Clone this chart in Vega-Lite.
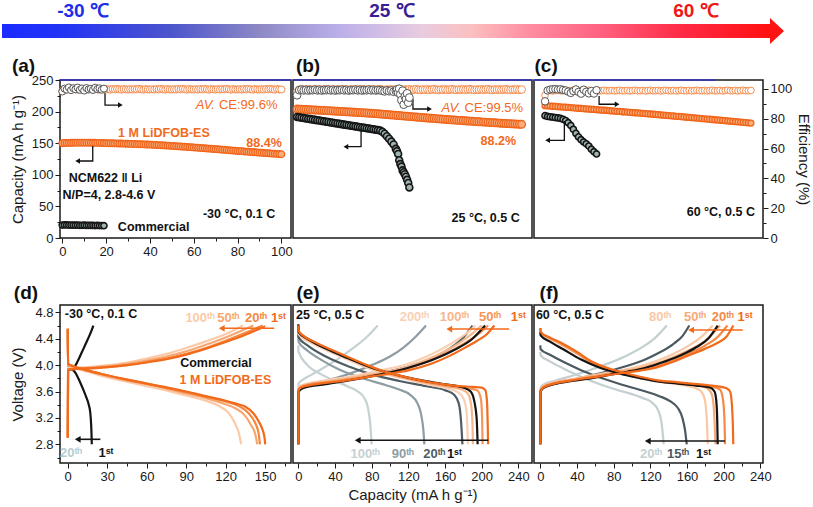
{
"$schema":"https://vega.github.io/schema/vega-lite/v6.json",
"background":"white",
"padding":{"left":0,"top":0,"right":0,"bottom":0},
"autosize":{"type":"pad"},
"config":{
 "font":"Liberation Sans",
 "view":{"stroke":"#1a1a1a","strokeWidth":1.5},
 "axis":{"domain":false,"grid":false,"tickColor":"#1a1a1a","tickWidth":1,"labelColor":"#1a1a1a","titleColor":"#1a1a1a","labelFontSize":13,"titleFontSize":15,"titleFontWeight":"normal","labelPadding":2,"labelFlush":false,"labelOverlap":false,"labelFont":"Liberation Sans","titleFont":"Liberation Sans"},
 "text":{"font":"Liberation Sans"}
},
"datasets":{
"cyc":[
{"p":"a","s":"L","x":0,"cap":150.0,"eff":98.6},{"p":"a","s":"L","x":1,"cap":150.3,"eff":99.8},{"p":"a","s":"L","x":2,"cap":150.4,"eff":99.6},{"p":"a","s":"L","x":3,"cap":150.5,"eff":99.9},{"p":"a","s":"L","x":4,"cap":150.6,"eff":99.7},{"p":"a","s":"L","x":5,"cap":150.6,"eff":100.0},{"p":"a","s":"L","x":6,"cap":150.7,"eff":99.8},{"p":"a","s":"L","x":7,"cap":150.7,"eff":99.5},{"p":"a","s":"L","x":8,"cap":150.7,"eff":99.9},{"p":"a","s":"L","x":9,"cap":150.8,"eff":99.7},
{"p":"a","s":"L","x":10,"cap":150.8,"eff":99.6},{"p":"a","s":"L","x":11,"cap":150.8,"eff":99.8},{"p":"a","s":"L","x":12,"cap":150.7,"eff":99.6},{"p":"a","s":"L","x":13,"cap":150.7,"eff":99.9},{"p":"a","s":"L","x":14,"cap":150.6,"eff":99.7},{"p":"a","s":"L","x":15,"cap":150.6,"eff":100.0},{"p":"a","s":"L","x":16,"cap":150.5,"eff":99.8},{"p":"a","s":"L","x":17,"cap":150.4,"eff":99.5},{"p":"a","s":"L","x":18,"cap":150.3,"eff":99.9},{"p":"a","s":"L","x":19,"cap":150.2,"eff":99.7},
{"p":"a","s":"L","x":20,"cap":150.1,"eff":99.6},{"p":"a","s":"L","x":21,"cap":150.0,"eff":99.8},{"p":"a","s":"L","x":22,"cap":149.9,"eff":99.6},{"p":"a","s":"L","x":23,"cap":149.8,"eff":99.9},{"p":"a","s":"L","x":24,"cap":149.7,"eff":99.7},{"p":"a","s":"L","x":25,"cap":149.6,"eff":100.0},{"p":"a","s":"L","x":26,"cap":149.5,"eff":99.8},{"p":"a","s":"L","x":27,"cap":149.4,"eff":99.5},{"p":"a","s":"L","x":28,"cap":149.3,"eff":99.9},{"p":"a","s":"L","x":29,"cap":149.2,"eff":99.7},
{"p":"a","s":"L","x":30,"cap":149.0,"eff":99.6},{"p":"a","s":"L","x":31,"cap":148.9,"eff":99.8},{"p":"a","s":"L","x":32,"cap":148.8,"eff":99.6},{"p":"a","s":"L","x":33,"cap":148.7,"eff":99.9},{"p":"a","s":"L","x":34,"cap":148.5,"eff":99.7},{"p":"a","s":"L","x":35,"cap":148.4,"eff":100.0},{"p":"a","s":"L","x":36,"cap":148.3,"eff":99.8},{"p":"a","s":"L","x":37,"cap":148.1,"eff":99.5},{"p":"a","s":"L","x":38,"cap":148.0,"eff":99.9},{"p":"a","s":"L","x":39,"cap":147.8,"eff":99.7},
{"p":"a","s":"L","x":40,"cap":147.7,"eff":99.6},{"p":"a","s":"L","x":41,"cap":147.5,"eff":99.8},{"p":"a","s":"L","x":42,"cap":147.4,"eff":99.6},{"p":"a","s":"L","x":43,"cap":147.2,"eff":99.9},{"p":"a","s":"L","x":44,"cap":147.0,"eff":99.7},{"p":"a","s":"L","x":45,"cap":146.8,"eff":100.0},{"p":"a","s":"L","x":46,"cap":146.6,"eff":99.8},{"p":"a","s":"L","x":47,"cap":146.4,"eff":99.5},{"p":"a","s":"L","x":48,"cap":146.2,"eff":99.9},{"p":"a","s":"L","x":49,"cap":146.0,"eff":99.7},
{"p":"a","s":"L","x":50,"cap":145.8,"eff":99.6},{"p":"a","s":"L","x":51,"cap":145.5,"eff":99.8},{"p":"a","s":"L","x":52,"cap":145.3,"eff":99.6},{"p":"a","s":"L","x":53,"cap":145.0,"eff":99.9},{"p":"a","s":"L","x":54,"cap":144.8,"eff":99.7},{"p":"a","s":"L","x":55,"cap":144.5,"eff":100.0},{"p":"a","s":"L","x":56,"cap":144.3,"eff":99.8},{"p":"a","s":"L","x":57,"cap":144.0,"eff":99.5},{"p":"a","s":"L","x":58,"cap":143.8,"eff":99.9},{"p":"a","s":"L","x":59,"cap":143.5,"eff":99.7},
{"p":"a","s":"L","x":60,"cap":143.3,"eff":99.6},{"p":"a","s":"L","x":61,"cap":143.0,"eff":99.8},{"p":"a","s":"L","x":62,"cap":142.7,"eff":99.6},{"p":"a","s":"L","x":63,"cap":142.5,"eff":99.9},{"p":"a","s":"L","x":64,"cap":142.2,"eff":99.7},{"p":"a","s":"L","x":65,"cap":141.9,"eff":100.0},{"p":"a","s":"L","x":66,"cap":141.7,"eff":99.8},{"p":"a","s":"L","x":67,"cap":141.4,"eff":99.5},{"p":"a","s":"L","x":68,"cap":141.1,"eff":99.9},{"p":"a","s":"L","x":69,"cap":140.8,"eff":99.7},
{"p":"a","s":"L","x":70,"cap":140.6,"eff":99.6},{"p":"a","s":"L","x":71,"cap":140.3,"eff":99.8},{"p":"a","s":"L","x":72,"cap":140.0,"eff":99.6},{"p":"a","s":"L","x":73,"cap":139.7,"eff":99.9},{"p":"a","s":"L","x":74,"cap":139.5,"eff":99.7},{"p":"a","s":"L","x":75,"cap":139.2,"eff":100.0},{"p":"a","s":"L","x":76,"cap":138.9,"eff":99.8},{"p":"a","s":"L","x":77,"cap":138.6,"eff":99.5},{"p":"a","s":"L","x":78,"cap":138.3,"eff":99.9},{"p":"a","s":"L","x":79,"cap":138.1,"eff":99.7},
{"p":"a","s":"L","x":80,"cap":137.8,"eff":99.6},{"p":"a","s":"L","x":81,"cap":137.5,"eff":99.8},{"p":"a","s":"L","x":82,"cap":137.2,"eff":99.6},{"p":"a","s":"L","x":83,"cap":136.9,"eff":99.9},{"p":"a","s":"L","x":84,"cap":136.7,"eff":99.7},{"p":"a","s":"L","x":85,"cap":136.4,"eff":100.0},{"p":"a","s":"L","x":86,"cap":136.1,"eff":99.8},{"p":"a","s":"L","x":87,"cap":135.8,"eff":99.5},{"p":"a","s":"L","x":88,"cap":135.6,"eff":99.9},{"p":"a","s":"L","x":89,"cap":135.3,"eff":99.7},
{"p":"a","s":"L","x":90,"cap":135.0,"eff":99.6},{"p":"a","s":"L","x":91,"cap":134.8,"eff":99.8},{"p":"a","s":"L","x":92,"cap":134.5,"eff":99.6},{"p":"a","s":"L","x":93,"cap":134.3,"eff":99.9},{"p":"a","s":"L","x":94,"cap":134.0,"eff":99.7},{"p":"a","s":"L","x":95,"cap":133.8,"eff":100.0},{"p":"a","s":"L","x":96,"cap":133.5,"eff":99.8},{"p":"a","s":"L","x":97,"cap":133.3,"eff":99.5},{"p":"a","s":"L","x":98,"cap":133.1,"eff":99.9},{"p":"a","s":"L","x":99,"cap":132.8,"eff":99.7},{"p":"a","s":"L","x":100,"cap":132.6,"eff":99.6},
{"p":"a","s":"C","x":0,"cap":20.5,"eff":98.3},{"p":"a","s":"C","x":1,"cap":20.8,"eff":100.2},{"p":"a","s":"C","x":2,"cap":20.6,"eff":99.6},{"p":"a","s":"C","x":3,"cap":20.4,"eff":101.0},{"p":"a","s":"C","x":4,"cap":20.5,"eff":99.2},{"p":"a","s":"C","x":5,"cap":20.3,"eff":100.5},{"p":"a","s":"C","x":6,"cap":20.2,"eff":99.8},{"p":"a","s":"C","x":7,"cap":20.4,"eff":100.9},{"p":"a","s":"C","x":8,"cap":20.1,"eff":99.4},{"p":"a","s":"C","x":9,"cap":20.0,"eff":100.3},
{"p":"a","s":"C","x":10,"cap":20.2,"eff":98.9},{"p":"a","s":"C","x":11,"cap":19.9,"eff":100.6},{"p":"a","s":"C","x":12,"cap":20.0,"eff":99.7},{"p":"a","s":"C","x":13,"cap":19.8,"eff":100.1},{"p":"a","s":"C","x":14,"cap":19.9,"eff":99.3},{"p":"a","s":"C","x":15,"cap":19.7,"eff":100.8},{"p":"a","s":"C","x":16,"cap":19.8,"eff":99.9},{"p":"a","s":"C","x":17,"cap":19.6,"eff":100.4},{"p":"a","s":"C","x":18,"cap":19.7,"eff":99.5},{"p":"a","s":"C","x":19,"cap":19.5,"eff":100.2},
{"p":"b","s":"L","x":0,"cap":204.0,"eff":97.8},{"p":"b","s":"L","x":2,"cap":203.9,"eff":99.5},{"p":"b","s":"L","x":4,"cap":203.7,"eff":99.7},{"p":"b","s":"L","x":6,"cap":203.5,"eff":99.4},{"p":"b","s":"L","x":8,"cap":203.3,"eff":99.6},{"p":"b","s":"L","x":10,"cap":203.1,"eff":99.8},{"p":"b","s":"L","x":12,"cap":202.9,"eff":99.5},{"p":"b","s":"L","x":14,"cap":202.7,"eff":99.3},{"p":"b","s":"L","x":16,"cap":202.5,"eff":99.6},{"p":"b","s":"L","x":18,"cap":202.3,"eff":99.5},
{"p":"b","s":"L","x":20,"cap":202.1,"eff":99.7},{"p":"b","s":"L","x":22,"cap":201.9,"eff":99.4},{"p":"b","s":"L","x":24,"cap":201.7,"eff":99.6},{"p":"b","s":"L","x":26,"cap":201.5,"eff":99.8},{"p":"b","s":"L","x":28,"cap":201.3,"eff":99.5},{"p":"b","s":"L","x":30,"cap":201.1,"eff":99.3},{"p":"b","s":"L","x":32,"cap":200.9,"eff":99.6},{"p":"b","s":"L","x":34,"cap":200.7,"eff":99.5},{"p":"b","s":"L","x":36,"cap":200.5,"eff":99.7},{"p":"b","s":"L","x":38,"cap":200.3,"eff":99.4},
{"p":"b","s":"L","x":40,"cap":200.1,"eff":99.6},{"p":"b","s":"L","x":42,"cap":199.9,"eff":99.8},{"p":"b","s":"L","x":44,"cap":199.7,"eff":99.5},{"p":"b","s":"L","x":46,"cap":199.5,"eff":99.3},{"p":"b","s":"L","x":48,"cap":199.3,"eff":99.6},{"p":"b","s":"L","x":50,"cap":199.1,"eff":99.5},{"p":"b","s":"L","x":52,"cap":198.9,"eff":99.7},{"p":"b","s":"L","x":54,"cap":198.6,"eff":99.4},{"p":"b","s":"L","x":56,"cap":198.4,"eff":99.6},{"p":"b","s":"L","x":58,"cap":198.2,"eff":99.8},
{"p":"b","s":"L","x":60,"cap":198.0,"eff":99.5},{"p":"b","s":"L","x":62,"cap":197.8,"eff":99.3},{"p":"b","s":"L","x":64,"cap":197.5,"eff":99.6},{"p":"b","s":"L","x":66,"cap":197.3,"eff":99.5},{"p":"b","s":"L","x":68,"cap":197.0,"eff":99.7},{"p":"b","s":"L","x":70,"cap":196.8,"eff":99.4},{"p":"b","s":"L","x":72,"cap":196.5,"eff":99.6},{"p":"b","s":"L","x":74,"cap":196.2,"eff":99.8},{"p":"b","s":"L","x":76,"cap":195.9,"eff":99.5},{"p":"b","s":"L","x":78,"cap":195.6,"eff":99.3},
{"p":"b","s":"L","x":80,"cap":195.3,"eff":99.6},{"p":"b","s":"L","x":82,"cap":195.0,"eff":99.5},{"p":"b","s":"L","x":84,"cap":194.7,"eff":99.7},{"p":"b","s":"L","x":86,"cap":194.4,"eff":99.4},{"p":"b","s":"L","x":88,"cap":194.1,"eff":99.6},{"p":"b","s":"L","x":90,"cap":193.8,"eff":99.8},{"p":"b","s":"L","x":92,"cap":193.5,"eff":99.5},{"p":"b","s":"L","x":94,"cap":193.2,"eff":99.3},{"p":"b","s":"L","x":96,"cap":192.9,"eff":99.6},{"p":"b","s":"L","x":98,"cap":192.6,"eff":99.5},
{"p":"b","s":"L","x":100,"cap":192.3,"eff":99.7},{"p":"b","s":"L","x":102,"cap":192.0,"eff":99.4},{"p":"b","s":"L","x":104,"cap":191.7,"eff":99.6},{"p":"b","s":"L","x":106,"cap":191.4,"eff":99.8},{"p":"b","s":"L","x":108,"cap":191.1,"eff":99.5},{"p":"b","s":"L","x":110,"cap":190.8,"eff":99.3},{"p":"b","s":"L","x":112,"cap":190.5,"eff":99.6},{"p":"b","s":"L","x":114,"cap":190.2,"eff":99.5},{"p":"b","s":"L","x":116,"cap":189.9,"eff":99.7},{"p":"b","s":"L","x":118,"cap":189.6,"eff":99.4},
{"p":"b","s":"L","x":120,"cap":189.4,"eff":99.6},{"p":"b","s":"L","x":122,"cap":189.1,"eff":99.8},{"p":"b","s":"L","x":124,"cap":188.8,"eff":99.5},{"p":"b","s":"L","x":126,"cap":188.5,"eff":99.3},{"p":"b","s":"L","x":128,"cap":188.2,"eff":99.6},{"p":"b","s":"L","x":130,"cap":188.0,"eff":99.5},{"p":"b","s":"L","x":132,"cap":187.7,"eff":99.7},{"p":"b","s":"L","x":134,"cap":187.4,"eff":99.4},{"p":"b","s":"L","x":136,"cap":187.1,"eff":99.6},{"p":"b","s":"L","x":138,"cap":186.9,"eff":99.8},
{"p":"b","s":"L","x":140,"cap":186.6,"eff":99.5},{"p":"b","s":"L","x":142,"cap":186.4,"eff":99.3},{"p":"b","s":"L","x":144,"cap":186.1,"eff":99.6},{"p":"b","s":"L","x":146,"cap":185.9,"eff":99.5},{"p":"b","s":"L","x":148,"cap":185.6,"eff":99.7},{"p":"b","s":"L","x":150,"cap":185.4,"eff":99.4},{"p":"b","s":"L","x":152,"cap":185.1,"eff":99.6},{"p":"b","s":"L","x":154,"cap":184.9,"eff":99.8},{"p":"b","s":"L","x":156,"cap":184.6,"eff":99.5},{"p":"b","s":"L","x":158,"cap":184.4,"eff":99.3},
{"p":"b","s":"L","x":160,"cap":184.1,"eff":99.6},{"p":"b","s":"L","x":162,"cap":183.9,"eff":99.5},{"p":"b","s":"L","x":164,"cap":183.7,"eff":99.7},{"p":"b","s":"L","x":166,"cap":183.4,"eff":99.4},{"p":"b","s":"L","x":168,"cap":183.2,"eff":99.6},{"p":"b","s":"L","x":170,"cap":183.0,"eff":99.8},{"p":"b","s":"L","x":172,"cap":182.7,"eff":99.5},{"p":"b","s":"L","x":174,"cap":182.5,"eff":99.3},{"p":"b","s":"L","x":176,"cap":182.3,"eff":99.6},{"p":"b","s":"L","x":178,"cap":182.1,"eff":99.5},
{"p":"b","s":"L","x":180,"cap":181.8,"eff":99.7},{"p":"b","s":"L","x":182,"cap":181.6,"eff":99.4},{"p":"b","s":"L","x":184,"cap":181.4,"eff":99.6},{"p":"b","s":"L","x":186,"cap":181.2,"eff":99.8},{"p":"b","s":"L","x":188,"cap":181.0,"eff":99.5},{"p":"b","s":"L","x":190,"cap":180.8,"eff":99.3},{"p":"b","s":"L","x":192,"cap":180.6,"eff":99.6},{"p":"b","s":"L","x":194,"cap":180.4,"eff":99.5},{"p":"b","s":"L","x":196,"cap":180.2,"eff":99.7},{"p":"b","s":"L","x":198,"cap":180.0,"eff":99.4},{"p":"b","s":"L","x":200,"cap":179.9,"eff":99.6},
{"p":"b","s":"C","x":0,"cap":191.5,"eff":95.8},{"p":"b","s":"C","x":2,"cap":190.9,"eff":99.2},{"p":"b","s":"C","x":4,"cap":190.4,"eff":99.5},{"p":"b","s":"C","x":6,"cap":189.8,"eff":99.1},{"p":"b","s":"C","x":8,"cap":189.2,"eff":99.4},{"p":"b","s":"C","x":10,"cap":188.6,"eff":99.0},{"p":"b","s":"C","x":12,"cap":188.1,"eff":99.3},{"p":"b","s":"C","x":14,"cap":187.5,"eff":99.2},{"p":"b","s":"C","x":16,"cap":186.9,"eff":99.5},{"p":"b","s":"C","x":18,"cap":186.3,"eff":99.1},
{"p":"b","s":"C","x":20,"cap":185.8,"eff":99.4},{"p":"b","s":"C","x":22,"cap":185.2,"eff":99.0},{"p":"b","s":"C","x":24,"cap":184.6,"eff":99.3},{"p":"b","s":"C","x":26,"cap":184.0,"eff":99.2},{"p":"b","s":"C","x":28,"cap":183.5,"eff":99.5},{"p":"b","s":"C","x":30,"cap":182.9,"eff":99.1},{"p":"b","s":"C","x":32,"cap":182.3,"eff":99.4},{"p":"b","s":"C","x":34,"cap":181.7,"eff":99.0},{"p":"b","s":"C","x":36,"cap":181.2,"eff":99.3},{"p":"b","s":"C","x":38,"cap":180.6,"eff":99.2},
{"p":"b","s":"C","x":40,"cap":180.0,"eff":99.5},{"p":"b","s":"C","x":42,"cap":179.4,"eff":99.1},{"p":"b","s":"C","x":44,"cap":178.9,"eff":99.4},{"p":"b","s":"C","x":46,"cap":178.3,"eff":99.0},{"p":"b","s":"C","x":48,"cap":177.7,"eff":99.3},{"p":"b","s":"C","x":50,"cap":177.1,"eff":99.2},{"p":"b","s":"C","x":52,"cap":176.6,"eff":99.5},{"p":"b","s":"C","x":54,"cap":176.0,"eff":99.1},{"p":"b","s":"C","x":56,"cap":175.4,"eff":99.4},{"p":"b","s":"C","x":58,"cap":174.8,"eff":99.0},
{"p":"b","s":"C","x":60,"cap":174.3,"eff":99.3},{"p":"b","s":"C","x":62,"cap":173.7,"eff":99.2},{"p":"b","s":"C","x":64,"cap":173.1,"eff":99.5},{"p":"b","s":"C","x":66,"cap":172.5,"eff":99.1},{"p":"b","s":"C","x":68,"cap":172.0,"eff":99.4},{"p":"b","s":"C","x":70,"cap":171.4,"eff":99.0},{"p":"b","s":"C","x":72,"cap":170.8,"eff":99.3},{"p":"b","s":"C","x":74,"cap":170.0,"eff":99.2},{"p":"b","s":"C","x":76,"cap":168.0,"eff":98.8},{"p":"b","s":"C","x":78,"cap":165.0,"eff":98.4},
{"p":"b","s":"C","x":80,"cap":161.0,"eff":99.0},{"p":"b","s":"C","x":82,"cap":157.0,"eff":98.5},{"p":"b","s":"C","x":84,"cap":152.5,"eff":98.9},{"p":"b","s":"C","x":86,"cap":148.0,"eff":98.2},{"p":"b","s":"C","x":88,"cap":141.0,"eff":98.7},{"p":"b","s":"C","x":89,"cap":137.5,"eff":99.6},{"p":"b","s":"C","x":90,"cap":133.0,"eff":97.5},{"p":"b","s":"C","x":91,"cap":123.0,"eff":100.1},{"p":"b","s":"C","x":92,"cap":117.0,"eff":96.4},{"p":"b","s":"C","x":93,"cap":113.0,"eff":92.5},
{"p":"b","s":"C","x":94,"cap":107.0,"eff":98.8},{"p":"b","s":"C","x":95,"cap":104.0,"eff":89.5},{"p":"b","s":"C","x":96,"cap":101.0,"eff":95.0},{"p":"b","s":"C","x":97,"cap":97.0,"eff":93.2},{"p":"b","s":"C","x":98,"cap":92.0,"eff":97.0},{"p":"b","s":"C","x":99,"cap":87.0,"eff":90.8},{"p":"b","s":"C","x":100,"cap":80.0,"eff":94.2},
{"p":"c","s":"L","x":0,"cap":209.4,"eff":95.8},{"p":"c","s":"L","x":1,"cap":209.1,"eff":98.8},{"p":"c","s":"L","x":2,"cap":208.8,"eff":99.0},{"p":"c","s":"L","x":3,"cap":208.5,"eff":98.7},{"p":"c","s":"L","x":4,"cap":208.2,"eff":98.9},{"p":"c","s":"L","x":5,"cap":207.8,"eff":99.1},{"p":"c","s":"L","x":6,"cap":207.5,"eff":98.8},{"p":"c","s":"L","x":7,"cap":207.2,"eff":98.8},{"p":"c","s":"L","x":8,"cap":206.9,"eff":99.0},{"p":"c","s":"L","x":9,"cap":206.6,"eff":98.7},
{"p":"c","s":"L","x":10,"cap":206.3,"eff":98.9},{"p":"c","s":"L","x":11,"cap":205.9,"eff":99.1},{"p":"c","s":"L","x":12,"cap":205.6,"eff":98.8},{"p":"c","s":"L","x":13,"cap":205.3,"eff":98.8},{"p":"c","s":"L","x":14,"cap":205.0,"eff":99.0},{"p":"c","s":"L","x":15,"cap":204.7,"eff":98.7},{"p":"c","s":"L","x":16,"cap":204.3,"eff":98.9},{"p":"c","s":"L","x":17,"cap":204.0,"eff":99.1},{"p":"c","s":"L","x":18,"cap":203.7,"eff":98.8},{"p":"c","s":"L","x":19,"cap":203.4,"eff":98.8},
{"p":"c","s":"L","x":20,"cap":203.1,"eff":99.0},{"p":"c","s":"L","x":21,"cap":202.7,"eff":98.7},{"p":"c","s":"L","x":22,"cap":202.4,"eff":98.9},{"p":"c","s":"L","x":23,"cap":202.1,"eff":99.1},{"p":"c","s":"L","x":24,"cap":201.8,"eff":98.8},{"p":"c","s":"L","x":25,"cap":201.5,"eff":98.8},{"p":"c","s":"L","x":26,"cap":201.1,"eff":99.0},{"p":"c","s":"L","x":27,"cap":200.8,"eff":98.7},{"p":"c","s":"L","x":28,"cap":200.5,"eff":98.9},{"p":"c","s":"L","x":29,"cap":200.2,"eff":99.1},
{"p":"c","s":"L","x":30,"cap":199.8,"eff":98.8},{"p":"c","s":"L","x":31,"cap":199.5,"eff":98.8},{"p":"c","s":"L","x":32,"cap":199.2,"eff":99.0},{"p":"c","s":"L","x":33,"cap":198.9,"eff":98.7},{"p":"c","s":"L","x":34,"cap":198.5,"eff":98.9},{"p":"c","s":"L","x":35,"cap":198.2,"eff":99.1},{"p":"c","s":"L","x":36,"cap":197.9,"eff":98.8},{"p":"c","s":"L","x":37,"cap":197.6,"eff":98.8},{"p":"c","s":"L","x":38,"cap":197.2,"eff":99.0},{"p":"c","s":"L","x":39,"cap":196.9,"eff":98.7},
{"p":"c","s":"L","x":40,"cap":196.5,"eff":98.9},{"p":"c","s":"L","x":41,"cap":196.2,"eff":99.1},{"p":"c","s":"L","x":42,"cap":195.8,"eff":98.8},{"p":"c","s":"L","x":43,"cap":195.5,"eff":98.8},{"p":"c","s":"L","x":44,"cap":195.1,"eff":99.0},{"p":"c","s":"L","x":45,"cap":194.8,"eff":98.7},{"p":"c","s":"L","x":46,"cap":194.4,"eff":98.9},{"p":"c","s":"L","x":47,"cap":194.1,"eff":99.1},{"p":"c","s":"L","x":48,"cap":193.7,"eff":98.8},{"p":"c","s":"L","x":49,"cap":193.3,"eff":98.8},
{"p":"c","s":"L","x":50,"cap":193.0,"eff":99.0},{"p":"c","s":"L","x":51,"cap":192.6,"eff":98.7},{"p":"c","s":"L","x":52,"cap":192.3,"eff":98.9},{"p":"c","s":"L","x":53,"cap":191.9,"eff":99.1},{"p":"c","s":"L","x":54,"cap":191.5,"eff":98.8},{"p":"c","s":"L","x":55,"cap":191.2,"eff":98.8},{"p":"c","s":"L","x":56,"cap":190.8,"eff":99.0},{"p":"c","s":"L","x":57,"cap":190.4,"eff":98.7},{"p":"c","s":"L","x":58,"cap":190.1,"eff":98.9},{"p":"c","s":"L","x":59,"cap":189.7,"eff":99.1},
{"p":"c","s":"L","x":60,"cap":189.3,"eff":98.8},{"p":"c","s":"L","x":61,"cap":189.0,"eff":98.8},{"p":"c","s":"L","x":62,"cap":188.6,"eff":99.0},{"p":"c","s":"L","x":63,"cap":188.2,"eff":98.7},{"p":"c","s":"L","x":64,"cap":187.9,"eff":98.9},{"p":"c","s":"L","x":65,"cap":187.5,"eff":99.1},{"p":"c","s":"L","x":66,"cap":187.1,"eff":98.8},{"p":"c","s":"L","x":67,"cap":186.8,"eff":98.8},{"p":"c","s":"L","x":68,"cap":186.4,"eff":99.0},{"p":"c","s":"L","x":69,"cap":186.0,"eff":98.7},
{"p":"c","s":"L","x":70,"cap":185.6,"eff":98.9},{"p":"c","s":"L","x":71,"cap":185.3,"eff":99.1},{"p":"c","s":"L","x":72,"cap":184.9,"eff":98.8},{"p":"c","s":"L","x":73,"cap":184.5,"eff":98.8},{"p":"c","s":"L","x":74,"cap":184.1,"eff":99.0},{"p":"c","s":"L","x":75,"cap":183.8,"eff":98.7},{"p":"c","s":"L","x":76,"cap":183.4,"eff":98.9},{"p":"c","s":"L","x":77,"cap":183.0,"eff":99.1},{"p":"c","s":"L","x":78,"cap":182.6,"eff":98.8},{"p":"c","s":"L","x":79,"cap":182.3,"eff":98.8},{"p":"c","s":"L","x":80,"cap":181.9,"eff":99.0},
{"p":"c","s":"C","x":0,"cap":193.6,"eff":91.7},{"p":"c","s":"C","x":1,"cap":192.3,"eff":99.0},{"p":"c","s":"C","x":2,"cap":191.8,"eff":99.6},{"p":"c","s":"C","x":3,"cap":191.2,"eff":99.8},{"p":"c","s":"C","x":4,"cap":190.6,"eff":99.9},{"p":"c","s":"C","x":5,"cap":190.0,"eff":99.6},{"p":"c","s":"C","x":6,"cap":189.2,"eff":99.8},{"p":"c","s":"C","x":7,"cap":187.8,"eff":99.4},{"p":"c","s":"C","x":8,"cap":185.8,"eff":99.0},{"p":"c","s":"C","x":9,"cap":182.5,"eff":98.2},
{"p":"c","s":"C","x":10,"cap":178.0,"eff":97.3},{"p":"c","s":"C","x":11,"cap":172.0,"eff":98.6},{"p":"c","s":"C","x":12,"cap":165.5,"eff":99.7},{"p":"c","s":"C","x":13,"cap":160.0,"eff":98.0},{"p":"c","s":"C","x":14,"cap":155.5,"eff":96.8},{"p":"c","s":"C","x":15,"cap":152.0,"eff":99.5},{"p":"c","s":"C","x":16,"cap":149.0,"eff":98.1},{"p":"c","s":"C","x":17,"cap":145.5,"eff":97.0},{"p":"c","s":"C","x":18,"cap":140.5,"eff":98.6},{"p":"c","s":"C","x":19,"cap":136.5,"eff":96.9},{"p":"c","s":"C","x":20,"cap":133.0,"eff":99.2}
],
"vc":[
{"p":"d","c":"C1","k":"ch","x":0.3,"y":3.92},{"p":"d","c":"C1","k":"ch","x":3,"y":3.94},{"p":"d","c":"C1","k":"ch","x":6,"y":4.0},{"p":"d","c":"C1","k":"ch","x":9,"y":4.12},{"p":"d","c":"C1","k":"ch","x":12,"y":4.25},{"p":"d","c":"C1","k":"ch","x":15,"y":4.38},{"p":"d","c":"C1","k":"ch","x":18,"y":4.52},{"p":"d","c":"C1","k":"ch","x":19.5,"y":4.6},
{"p":"d","c":"C1","k":"dis","x":0,"y":4.0},{"p":"d","c":"C1","k":"dis","x":3,"y":3.95},{"p":"d","c":"C1","k":"dis","x":6,"y":3.88},{"p":"d","c":"C1","k":"dis","x":9,"y":3.76},{"p":"d","c":"C1","k":"dis","x":12,"y":3.62},{"p":"d","c":"C1","k":"dis","x":14,"y":3.52},{"p":"d","c":"C1","k":"dis","x":16,"y":3.4},{"p":"d","c":"C1","k":"dis","x":17.2,"y":3.27},{"p":"d","c":"C1","k":"dis","x":17.8,"y":3.1},{"p":"d","c":"C1","k":"dis","x":18.1,"y":2.95},{"p":"d","c":"C1","k":"dis","x":18.3,"y":2.8},
{"p":"d","c":"L100","k":"ch","x":0,"y":2.9},{"p":"d","c":"L100","k":"ch","x":0.3,"y":3.95},{"p":"d","c":"L100","k":"ch","x":5,"y":3.96},{"p":"d","c":"L100","k":"ch","x":15,"y":3.97},{"p":"d","c":"L100","k":"ch","x":30,"y":4.0},{"p":"d","c":"L100","k":"ch","x":45,"y":4.04},{"p":"d","c":"L100","k":"ch","x":60,"y":4.1},{"p":"d","c":"L100","k":"ch","x":75,"y":4.17},{"p":"d","c":"L100","k":"ch","x":90,"y":4.26},{"p":"d","c":"L100","k":"ch","x":105,"y":4.36},{"p":"d","c":"L100","k":"ch","x":120,"y":4.47},{"p":"d","c":"L100","k":"ch","x":133,"y":4.6},
{"p":"d","c":"L100","k":"dis","x":0,"y":4.55},{"p":"d","c":"L100","k":"dis","x":0.3,"y":4.0},{"p":"d","c":"L100","k":"dis","x":5,"y":3.96},{"p":"d","c":"L100","k":"dis","x":15,"y":3.9},{"p":"d","c":"L100","k":"dis","x":25,"y":3.84},{"p":"d","c":"L100","k":"dis","x":45,"y":3.75},{"p":"d","c":"L100","k":"dis","x":60,"y":3.68},{"p":"d","c":"L100","k":"dis","x":76,"y":3.61},{"p":"d","c":"L100","k":"dis","x":90,"y":3.54},{"p":"d","c":"L100","k":"dis","x":105,"y":3.46},{"p":"d","c":"L100","k":"dis","x":115,"y":3.38},{"p":"d","c":"L100","k":"dis","x":122,"y":3.28},{"p":"d","c":"L100","k":"dis","x":127,"y":3.12},{"p":"d","c":"L100","k":"dis","x":130,"y":2.97},{"p":"d","c":"L100","k":"dis","x":131.7,"y":2.8},
{"p":"d","c":"L50","k":"ch","x":0,"y":2.9},{"p":"d","c":"L50","k":"ch","x":0.3,"y":3.94},{"p":"d","c":"L50","k":"ch","x":5,"y":3.95},{"p":"d","c":"L50","k":"ch","x":15,"y":3.96},{"p":"d","c":"L50","k":"ch","x":30,"y":3.98},{"p":"d","c":"L50","k":"ch","x":45,"y":4.02},{"p":"d","c":"L50","k":"ch","x":60,"y":4.07},{"p":"d","c":"L50","k":"ch","x":75,"y":4.13},{"p":"d","c":"L50","k":"ch","x":90,"y":4.21},{"p":"d","c":"L50","k":"ch","x":105,"y":4.31},{"p":"d","c":"L50","k":"ch","x":120,"y":4.42},{"p":"d","c":"L50","k":"ch","x":132,"y":4.52},{"p":"d","c":"L50","k":"ch","x":141,"y":4.6},
{"p":"d","c":"L50","k":"dis","x":0,"y":4.55},{"p":"d","c":"L50","k":"dis","x":0.3,"y":4.01},{"p":"d","c":"L50","k":"dis","x":5,"y":3.97},{"p":"d","c":"L50","k":"dis","x":15,"y":3.91},{"p":"d","c":"L50","k":"dis","x":25,"y":3.86},{"p":"d","c":"L50","k":"dis","x":45,"y":3.77},{"p":"d","c":"L50","k":"dis","x":60,"y":3.71},{"p":"d","c":"L50","k":"dis","x":76,"y":3.64},{"p":"d","c":"L50","k":"dis","x":90,"y":3.57},{"p":"d","c":"L50","k":"dis","x":105,"y":3.5},{"p":"d","c":"L50","k":"dis","x":118,"y":3.42},{"p":"d","c":"L50","k":"dis","x":127,"y":3.35},{"p":"d","c":"L50","k":"dis","x":134,"y":3.25},{"p":"d","c":"L50","k":"dis","x":139,"y":3.1},{"p":"d","c":"L50","k":"dis","x":142.5,"y":2.95},{"p":"d","c":"L50","k":"dis","x":144,"y":2.8},
{"p":"d","c":"L20","k":"ch","x":0,"y":2.9},{"p":"d","c":"L20","k":"ch","x":0.3,"y":3.93},{"p":"d","c":"L20","k":"ch","x":5,"y":3.94},{"p":"d","c":"L20","k":"ch","x":15,"y":3.95},{"p":"d","c":"L20","k":"ch","x":30,"y":3.97},{"p":"d","c":"L20","k":"ch","x":45,"y":4.0},{"p":"d","c":"L20","k":"ch","x":60,"y":4.05},{"p":"d","c":"L20","k":"ch","x":75,"y":4.1},{"p":"d","c":"L20","k":"ch","x":90,"y":4.17},{"p":"d","c":"L20","k":"ch","x":105,"y":4.26},{"p":"d","c":"L20","k":"ch","x":120,"y":4.37},{"p":"d","c":"L20","k":"ch","x":135,"y":4.49},{"p":"d","c":"L20","k":"ch","x":148,"y":4.6},
{"p":"d","c":"L20","k":"dis","x":0,"y":4.55},{"p":"d","c":"L20","k":"dis","x":0.3,"y":4.02},{"p":"d","c":"L20","k":"dis","x":5,"y":3.98},{"p":"d","c":"L20","k":"dis","x":15,"y":3.92},{"p":"d","c":"L20","k":"dis","x":25,"y":3.87},{"p":"d","c":"L20","k":"dis","x":45,"y":3.78},{"p":"d","c":"L20","k":"dis","x":60,"y":3.72},{"p":"d","c":"L20","k":"dis","x":76,"y":3.65},{"p":"d","c":"L20","k":"dis","x":90,"y":3.59},{"p":"d","c":"L20","k":"dis","x":105,"y":3.52},{"p":"d","c":"L20","k":"dis","x":120,"y":3.45},{"p":"d","c":"L20","k":"dis","x":130,"y":3.38},{"p":"d","c":"L20","k":"dis","x":137,"y":3.28},{"p":"d","c":"L20","k":"dis","x":142,"y":3.14},{"p":"d","c":"L20","k":"dis","x":145,"y":2.97},{"p":"d","c":"L20","k":"dis","x":146,"y":2.8},
{"p":"d","c":"L1","k":"ch","x":0,"y":2.9},{"p":"d","c":"L1","k":"ch","x":0.3,"y":3.93},{"p":"d","c":"L1","k":"ch","x":5,"y":3.94},{"p":"d","c":"L1","k":"ch","x":15,"y":3.95},{"p":"d","c":"L1","k":"ch","x":30,"y":3.97},{"p":"d","c":"L1","k":"ch","x":45,"y":4.0},{"p":"d","c":"L1","k":"ch","x":60,"y":4.04},{"p":"d","c":"L1","k":"ch","x":75,"y":4.09},{"p":"d","c":"L1","k":"ch","x":90,"y":4.16},{"p":"d","c":"L1","k":"ch","x":105,"y":4.25},{"p":"d","c":"L1","k":"ch","x":120,"y":4.35},{"p":"d","c":"L1","k":"ch","x":135,"y":4.46},{"p":"d","c":"L1","k":"ch","x":150,"y":4.59},
{"p":"d","c":"L1","k":"dis","x":0,"y":4.55},{"p":"d","c":"L1","k":"dis","x":0.3,"y":4.02},{"p":"d","c":"L1","k":"dis","x":5,"y":3.98},{"p":"d","c":"L1","k":"dis","x":15,"y":3.92},{"p":"d","c":"L1","k":"dis","x":25,"y":3.87},{"p":"d","c":"L1","k":"dis","x":45,"y":3.78},{"p":"d","c":"L1","k":"dis","x":60,"y":3.72},{"p":"d","c":"L1","k":"dis","x":76,"y":3.66},{"p":"d","c":"L1","k":"dis","x":90,"y":3.6},{"p":"d","c":"L1","k":"dis","x":105,"y":3.53},{"p":"d","c":"L1","k":"dis","x":120,"y":3.46},{"p":"d","c":"L1","k":"dis","x":127,"y":3.42},{"p":"d","c":"L1","k":"dis","x":135,"y":3.37},{"p":"d","c":"L1","k":"dis","x":141,"y":3.27},{"p":"d","c":"L1","k":"dis","x":145,"y":3.15},{"p":"d","c":"L1","k":"dis","x":148,"y":3.02},{"p":"d","c":"L1","k":"dis","x":149.5,"y":2.9},{"p":"d","c":"L1","k":"dis","x":150,"y":2.8},
{"p":"e","c":"C100","k":"dis","x":0,"y":4.3},{"p":"e","c":"C100","k":"dis","x":0.3,"y":4.2},{"p":"e","c":"C100","k":"dis","x":10,"y":4.0},{"p":"e","c":"C100","k":"dis","x":25,"y":3.86},{"p":"e","c":"C100","k":"dis","x":40,"y":3.76},{"p":"e","c":"C100","k":"dis","x":55,"y":3.67},{"p":"e","c":"C100","k":"dis","x":65,"y":3.6},{"p":"e","c":"C100","k":"dis","x":72,"y":3.5},{"p":"e","c":"C100","k":"dis","x":76,"y":3.35},{"p":"e","c":"C100","k":"dis","x":78.5,"y":3.1},{"p":"e","c":"C100","k":"dis","x":80,"y":2.8},
{"p":"e","c":"C100","k":"ch","x":0,"y":2.8},{"p":"e","c":"C100","k":"ch","x":0.3,"y":3.72},{"p":"e","c":"C100","k":"ch","x":5,"y":3.78},{"p":"e","c":"C100","k":"ch","x":15,"y":3.86},{"p":"e","c":"C100","k":"ch","x":30,"y":3.98},{"p":"e","c":"C100","k":"ch","x":45,"y":4.11},{"p":"e","c":"C100","k":"ch","x":60,"y":4.26},{"p":"e","c":"C100","k":"ch","x":75,"y":4.43},{"p":"e","c":"C100","k":"ch","x":86.6,"y":4.6},
{"p":"e","c":"C90","k":"dis","x":0,"y":4.45},{"p":"e","c":"C90","k":"dis","x":0.3,"y":4.35},{"p":"e","c":"C90","k":"dis","x":10,"y":4.22},{"p":"e","c":"C90","k":"dis","x":25,"y":4.08},{"p":"e","c":"C90","k":"dis","x":45,"y":3.93},{"p":"e","c":"C90","k":"dis","x":70,"y":3.8},{"p":"e","c":"C90","k":"dis","x":95,"y":3.7},{"p":"e","c":"C90","k":"dis","x":110,"y":3.63},{"p":"e","c":"C90","k":"dis","x":122,"y":3.55},{"p":"e","c":"C90","k":"dis","x":130,"y":3.42},{"p":"e","c":"C90","k":"dis","x":134,"y":3.25},{"p":"e","c":"C90","k":"dis","x":136.5,"y":3.0},{"p":"e","c":"C90","k":"dis","x":137.5,"y":2.8},
{"p":"e","c":"C90","k":"ch","x":0,"y":2.8},{"p":"e","c":"C90","k":"ch","x":0.3,"y":3.62},{"p":"e","c":"C90","k":"ch","x":5,"y":3.67},{"p":"e","c":"C90","k":"ch","x":20,"y":3.73},{"p":"e","c":"C90","k":"ch","x":40,"y":3.8},{"p":"e","c":"C90","k":"ch","x":60,"y":3.89},{"p":"e","c":"C90","k":"ch","x":80,"y":4.0},{"p":"e","c":"C90","k":"ch","x":100,"y":4.13},{"p":"e","c":"C90","k":"ch","x":115,"y":4.27},{"p":"e","c":"C90","k":"ch","x":128,"y":4.43},{"p":"e","c":"C90","k":"ch","x":139.3,"y":4.6},
{"p":"e","c":"C20","k":"dis","x":0,"y":4.5},{"p":"e","c":"C20","k":"dis","x":0.3,"y":4.42},{"p":"e","c":"C20","k":"dis","x":10,"y":4.3},{"p":"e","c":"C20","k":"dis","x":30,"y":4.13},{"p":"e","c":"C20","k":"dis","x":55,"y":3.98},{"p":"e","c":"C20","k":"dis","x":80,"y":3.86},{"p":"e","c":"C20","k":"dis","x":110,"y":3.76},{"p":"e","c":"C20","k":"dis","x":140,"y":3.68},{"p":"e","c":"C20","k":"dis","x":160,"y":3.62},{"p":"e","c":"C20","k":"dis","x":170,"y":3.55},{"p":"e","c":"C20","k":"dis","x":175,"y":3.42},{"p":"e","c":"C20","k":"dis","x":177.5,"y":3.15},{"p":"e","c":"C20","k":"dis","x":179,"y":2.8},
{"p":"e","c":"C20","k":"ch","x":0,"y":2.8},{"p":"e","c":"C20","k":"ch","x":0.3,"y":3.64},{"p":"e","c":"C20","k":"ch","x":5,"y":3.68},{"p":"e","c":"C20","k":"ch","x":30,"y":3.74},{"p":"e","c":"C20","k":"ch","x":60,"y":3.8},{"p":"e","c":"C20","k":"ch","x":90,"y":3.88},{"p":"e","c":"C20","k":"ch","x":120,"y":3.98},{"p":"e","c":"C20","k":"ch","x":145,"y":4.1},{"p":"e","c":"C20","k":"ch","x":165,"y":4.25},{"p":"e","c":"C20","k":"ch","x":180,"y":4.42},{"p":"e","c":"C20","k":"ch","x":190,"y":4.6},
{"p":"e","c":"L200","k":"ch","x":0,"y":2.8},{"p":"e","c":"L200","k":"ch","x":0.3,"y":3.65},{"p":"e","c":"L200","k":"ch","x":3,"y":3.69},{"p":"e","c":"L200","k":"ch","x":10,"y":3.72},{"p":"e","c":"L200","k":"ch","x":30,"y":3.77},{"p":"e","c":"L200","k":"ch","x":53,"y":3.82},{"p":"e","c":"L200","k":"ch","x":80,"y":3.89},{"p":"e","c":"L200","k":"ch","x":100,"y":3.95},{"p":"e","c":"L200","k":"ch","x":120,"y":4.02},{"p":"e","c":"L200","k":"ch","x":140,"y":4.13},{"p":"e","c":"L200","k":"ch","x":160,"y":4.27},{"p":"e","c":"L200","k":"ch","x":175,"y":4.4},{"p":"e","c":"L200","k":"ch","x":186,"y":4.51},{"p":"e","c":"L200","k":"ch","x":193,"y":4.6},
{"p":"e","c":"L200","k":"dis","x":0,"y":4.58},{"p":"e","c":"L200","k":"dis","x":0.3,"y":4.48},{"p":"e","c":"L200","k":"dis","x":5,"y":4.41},{"p":"e","c":"L200","k":"dis","x":15,"y":4.33},{"p":"e","c":"L200","k":"dis","x":30,"y":4.23},{"p":"e","c":"L200","k":"dis","x":53,"y":4.09},{"p":"e","c":"L200","k":"dis","x":75,"y":3.96},{"p":"e","c":"L200","k":"dis","x":97,"y":3.86},{"p":"e","c":"L200","k":"dis","x":120,"y":3.78},{"p":"e","c":"L200","k":"dis","x":144,"y":3.7},{"p":"e","c":"L200","k":"dis","x":162,"y":3.65},{"p":"e","c":"L200","k":"dis","x":174,"y":3.59},{"p":"e","c":"L200","k":"dis","x":180,"y":3.5},{"p":"e","c":"L200","k":"dis","x":183.5,"y":3.3},{"p":"e","c":"L200","k":"dis","x":185,"y":2.8},
{"p":"e","c":"L100","k":"ch","x":0,"y":2.8},{"p":"e","c":"L100","k":"ch","x":0.3,"y":3.64},{"p":"e","c":"L100","k":"ch","x":3,"y":3.68},{"p":"e","c":"L100","k":"ch","x":10,"y":3.71},{"p":"e","c":"L100","k":"ch","x":30,"y":3.75},{"p":"e","c":"L100","k":"ch","x":53,"y":3.8},{"p":"e","c":"L100","k":"ch","x":80,"y":3.86},{"p":"e","c":"L100","k":"ch","x":100,"y":3.91},{"p":"e","c":"L100","k":"ch","x":120,"y":3.98},{"p":"e","c":"L100","k":"ch","x":140,"y":4.08},{"p":"e","c":"L100","k":"ch","x":160,"y":4.21},{"p":"e","c":"L100","k":"ch","x":175,"y":4.33},{"p":"e","c":"L100","k":"ch","x":190,"y":4.48},{"p":"e","c":"L100","k":"ch","x":200,"y":4.6},
{"p":"e","c":"L100","k":"dis","x":0,"y":4.6},{"p":"e","c":"L100","k":"dis","x":0.3,"y":4.5},{"p":"e","c":"L100","k":"dis","x":5,"y":4.43},{"p":"e","c":"L100","k":"dis","x":15,"y":4.35},{"p":"e","c":"L100","k":"dis","x":30,"y":4.25},{"p":"e","c":"L100","k":"dis","x":53,"y":4.11},{"p":"e","c":"L100","k":"dis","x":75,"y":3.98},{"p":"e","c":"L100","k":"dis","x":97,"y":3.87},{"p":"e","c":"L100","k":"dis","x":120,"y":3.79},{"p":"e","c":"L100","k":"dis","x":144,"y":3.72},{"p":"e","c":"L100","k":"dis","x":165,"y":3.67},{"p":"e","c":"L100","k":"dis","x":178,"y":3.63},{"p":"e","c":"L100","k":"dis","x":185,"y":3.57},{"p":"e","c":"L100","k":"dis","x":188.5,"y":3.4},{"p":"e","c":"L100","k":"dis","x":190,"y":3.1},{"p":"e","c":"L100","k":"dis","x":190.5,"y":2.8},
{"p":"e","c":"L50","k":"ch","x":0,"y":2.8},{"p":"e","c":"L50","k":"ch","x":0.3,"y":3.63},{"p":"e","c":"L50","k":"ch","x":3,"y":3.67},{"p":"e","c":"L50","k":"ch","x":10,"y":3.7},{"p":"e","c":"L50","k":"ch","x":30,"y":3.74},{"p":"e","c":"L50","k":"ch","x":53,"y":3.78},{"p":"e","c":"L50","k":"ch","x":80,"y":3.84},{"p":"e","c":"L50","k":"ch","x":100,"y":3.89},{"p":"e","c":"L50","k":"ch","x":120,"y":3.95},{"p":"e","c":"L50","k":"ch","x":140,"y":4.05},{"p":"e","c":"L50","k":"ch","x":160,"y":4.17},{"p":"e","c":"L50","k":"ch","x":175,"y":4.28},{"p":"e","c":"L50","k":"ch","x":190,"y":4.41},{"p":"e","c":"L50","k":"ch","x":199,"y":4.5},{"p":"e","c":"L50","k":"ch","x":207,"y":4.6},
{"p":"e","c":"L50","k":"dis","x":0,"y":4.6},{"p":"e","c":"L50","k":"dis","x":0.3,"y":4.51},{"p":"e","c":"L50","k":"dis","x":5,"y":4.44},{"p":"e","c":"L50","k":"dis","x":15,"y":4.36},{"p":"e","c":"L50","k":"dis","x":30,"y":4.26},{"p":"e","c":"L50","k":"dis","x":53,"y":4.12},{"p":"e","c":"L50","k":"dis","x":75,"y":3.99},{"p":"e","c":"L50","k":"dis","x":97,"y":3.88},{"p":"e","c":"L50","k":"dis","x":120,"y":3.8},{"p":"e","c":"L50","k":"dis","x":144,"y":3.73},{"p":"e","c":"L50","k":"dis","x":165,"y":3.68},{"p":"e","c":"L50","k":"dis","x":185,"y":3.65},{"p":"e","c":"L50","k":"dis","x":195,"y":3.62},{"p":"e","c":"L50","k":"dis","x":199,"y":3.5},{"p":"e","c":"L50","k":"dis","x":200.5,"y":3.2},{"p":"e","c":"L50","k":"dis","x":201,"y":2.8},
{"p":"e","c":"C1","k":"dis","x":0,"y":4.62},{"p":"e","c":"C1","k":"dis","x":0.3,"y":4.5},{"p":"e","c":"C1","k":"dis","x":10,"y":4.4},{"p":"e","c":"C1","k":"dis","x":30,"y":4.25},{"p":"e","c":"C1","k":"dis","x":55,"y":4.1},{"p":"e","c":"C1","k":"dis","x":80,"y":3.96},{"p":"e","c":"C1","k":"dis","x":100,"y":3.88},{"p":"e","c":"C1","k":"dis","x":130,"y":3.78},{"p":"e","c":"C1","k":"dis","x":160,"y":3.71},{"p":"e","c":"C1","k":"dis","x":180,"y":3.66},{"p":"e","c":"C1","k":"dis","x":188,"y":3.6},{"p":"e","c":"C1","k":"dis","x":192,"y":3.45},{"p":"e","c":"C1","k":"dis","x":194.5,"y":3.2},{"p":"e","c":"C1","k":"dis","x":195.6,"y":2.8},
{"p":"e","c":"C1","k":"ch","x":0,"y":2.8},{"p":"e","c":"C1","k":"ch","x":0.3,"y":3.6},{"p":"e","c":"C1","k":"ch","x":5,"y":3.65},{"p":"e","c":"C1","k":"ch","x":30,"y":3.71},{"p":"e","c":"C1","k":"ch","x":60,"y":3.78},{"p":"e","c":"C1","k":"ch","x":90,"y":3.86},{"p":"e","c":"C1","k":"ch","x":120,"y":3.96},{"p":"e","c":"C1","k":"ch","x":150,"y":4.1},{"p":"e","c":"C1","k":"ch","x":170,"y":4.23},{"p":"e","c":"C1","k":"ch","x":190,"y":4.4},{"p":"e","c":"C1","k":"ch","x":203.7,"y":4.6},
{"p":"e","c":"L1","k":"ch","x":0,"y":2.8},{"p":"e","c":"L1","k":"ch","x":0.3,"y":3.62},{"p":"e","c":"L1","k":"ch","x":3,"y":3.66},{"p":"e","c":"L1","k":"ch","x":10,"y":3.69},{"p":"e","c":"L1","k":"ch","x":30,"y":3.73},{"p":"e","c":"L1","k":"ch","x":53,"y":3.77},{"p":"e","c":"L1","k":"ch","x":80,"y":3.83},{"p":"e","c":"L1","k":"ch","x":100,"y":3.87},{"p":"e","c":"L1","k":"ch","x":120,"y":3.92},{"p":"e","c":"L1","k":"ch","x":145,"y":4.02},{"p":"e","c":"L1","k":"ch","x":165,"y":4.14},{"p":"e","c":"L1","k":"ch","x":180,"y":4.25},{"p":"e","c":"L1","k":"ch","x":195,"y":4.37},{"p":"e","c":"L1","k":"ch","x":205,"y":4.46},{"p":"e","c":"L1","k":"ch","x":213.8,"y":4.6},
{"p":"e","c":"L1","k":"dis","x":0,"y":4.6},{"p":"e","c":"L1","k":"dis","x":0.3,"y":4.52},{"p":"e","c":"L1","k":"dis","x":5,"y":4.45},{"p":"e","c":"L1","k":"dis","x":15,"y":4.37},{"p":"e","c":"L1","k":"dis","x":30,"y":4.27},{"p":"e","c":"L1","k":"dis","x":53,"y":4.13},{"p":"e","c":"L1","k":"dis","x":75,"y":4.0},{"p":"e","c":"L1","k":"dis","x":97,"y":3.89},{"p":"e","c":"L1","k":"dis","x":120,"y":3.81},{"p":"e","c":"L1","k":"dis","x":144,"y":3.74},{"p":"e","c":"L1","k":"dis","x":170,"y":3.69},{"p":"e","c":"L1","k":"dis","x":190,"y":3.67},{"p":"e","c":"L1","k":"dis","x":200,"y":3.66},{"p":"e","c":"L1","k":"dis","x":204,"y":3.62},{"p":"e","c":"L1","k":"dis","x":205.8,"y":3.45},{"p":"e","c":"L1","k":"dis","x":206.6,"y":3.1},{"p":"e","c":"L1","k":"dis","x":207,"y":2.8},
{"p":"f","c":"C20","k":"dis","x":0,"y":4.2},{"p":"f","c":"C20","k":"dis","x":0.3,"y":4.15},{"p":"f","c":"C20","k":"dis","x":10,"y":4.06},{"p":"f","c":"C20","k":"dis","x":25,"y":3.95},{"p":"f","c":"C20","k":"dis","x":45,"y":3.82},{"p":"f","c":"C20","k":"dis","x":65,"y":3.71},{"p":"f","c":"C20","k":"dis","x":85,"y":3.62},{"p":"f","c":"C20","k":"dis","x":100,"y":3.56},{"p":"f","c":"C20","k":"dis","x":112,"y":3.5},{"p":"f","c":"C20","k":"dis","x":122,"y":3.43},{"p":"f","c":"C20","k":"dis","x":128,"y":3.33},{"p":"f","c":"C20","k":"dis","x":132,"y":3.15},{"p":"f","c":"C20","k":"dis","x":134.6,"y":2.8},
{"p":"f","c":"C20","k":"ch","x":0,"y":2.8},{"p":"f","c":"C20","k":"ch","x":0.3,"y":3.65},{"p":"f","c":"C20","k":"ch","x":3,"y":3.7},{"p":"f","c":"C20","k":"ch","x":15,"y":3.76},{"p":"f","c":"C20","k":"ch","x":35,"y":3.84},{"p":"f","c":"C20","k":"ch","x":55,"y":3.93},{"p":"f","c":"C20","k":"ch","x":75,"y":4.03},{"p":"f","c":"C20","k":"ch","x":95,"y":4.15},{"p":"f","c":"C20","k":"ch","x":112,"y":4.28},{"p":"f","c":"C20","k":"ch","x":125,"y":4.41},{"p":"f","c":"C20","k":"ch","x":138,"y":4.6},
{"p":"f","c":"C15","k":"dis","x":0,"y":4.3},{"p":"f","c":"C15","k":"dis","x":0.3,"y":4.24},{"p":"f","c":"C15","k":"dis","x":10,"y":4.16},{"p":"f","c":"C15","k":"dis","x":25,"y":4.05},{"p":"f","c":"C15","k":"dis","x":45,"y":3.92},{"p":"f","c":"C15","k":"dis","x":70,"y":3.79},{"p":"f","c":"C15","k":"dis","x":95,"y":3.68},{"p":"f","c":"C15","k":"dis","x":115,"y":3.6},{"p":"f","c":"C15","k":"dis","x":130,"y":3.53},{"p":"f","c":"C15","k":"dis","x":142,"y":3.45},{"p":"f","c":"C15","k":"dis","x":150,"y":3.35},{"p":"f","c":"C15","k":"dis","x":155,"y":3.2},{"p":"f","c":"C15","k":"dis","x":158,"y":3.0},{"p":"f","c":"C15","k":"dis","x":159.7,"y":2.8},
{"p":"f","c":"C15","k":"ch","x":0,"y":2.8},{"p":"f","c":"C15","k":"ch","x":0.3,"y":3.62},{"p":"f","c":"C15","k":"ch","x":3,"y":3.67},{"p":"f","c":"C15","k":"ch","x":15,"y":3.72},{"p":"f","c":"C15","k":"ch","x":35,"y":3.78},{"p":"f","c":"C15","k":"ch","x":55,"y":3.84},{"p":"f","c":"C15","k":"ch","x":75,"y":3.91},{"p":"f","c":"C15","k":"ch","x":95,"y":3.99},{"p":"f","c":"C15","k":"ch","x":115,"y":4.09},{"p":"f","c":"C15","k":"ch","x":130,"y":4.19},{"p":"f","c":"C15","k":"ch","x":145,"y":4.32},{"p":"f","c":"C15","k":"ch","x":155,"y":4.44},{"p":"f","c":"C15","k":"ch","x":162.5,"y":4.6},
{"p":"f","c":"L80","k":"dis","x":0,"y":4.55},{"p":"f","c":"L80","k":"dis","x":0.3,"y":4.48},{"p":"f","c":"L80","k":"dis","x":10,"y":4.4},{"p":"f","c":"L80","k":"dis","x":22.6,"y":4.31},{"p":"f","c":"L80","k":"dis","x":40,"y":4.17},{"p":"f","c":"L80","k":"dis","x":55.3,"y":4.03},{"p":"f","c":"L80","k":"dis","x":75,"y":3.92},{"p":"f","c":"L80","k":"dis","x":91.6,"y":3.86},{"p":"f","c":"L80","k":"dis","x":110,"y":3.8},{"p":"f","c":"L80","k":"dis","x":128,"y":3.75},{"p":"f","c":"L80","k":"dis","x":150,"y":3.71},{"p":"f","c":"L80","k":"dis","x":165,"y":3.67},{"p":"f","c":"L80","k":"dis","x":174,"y":3.62},{"p":"f","c":"L80","k":"dis","x":179,"y":3.5},{"p":"f","c":"L80","k":"dis","x":181.5,"y":3.2},{"p":"f","c":"L80","k":"dis","x":182.6,"y":2.8},
{"p":"f","c":"L80","k":"ch","x":0,"y":2.8},{"p":"f","c":"L80","k":"ch","x":0.3,"y":3.62},{"p":"f","c":"L80","k":"ch","x":3,"y":3.68},{"p":"f","c":"L80","k":"ch","x":15,"y":3.74},{"p":"f","c":"L80","k":"ch","x":35,"y":3.79},{"p":"f","c":"L80","k":"ch","x":55,"y":3.84},{"p":"f","c":"L80","k":"ch","x":75,"y":3.89},{"p":"f","c":"L80","k":"ch","x":91.6,"y":3.93},{"p":"f","c":"L80","k":"ch","x":110,"y":3.99},{"p":"f","c":"L80","k":"ch","x":128,"y":4.07},{"p":"f","c":"L80","k":"ch","x":145,"y":4.17},{"p":"f","c":"L80","k":"ch","x":160,"y":4.28},{"p":"f","c":"L80","k":"ch","x":175,"y":4.42},{"p":"f","c":"L80","k":"ch","x":188,"y":4.6},
{"p":"f","c":"L50","k":"dis","x":0,"y":4.56},{"p":"f","c":"L50","k":"dis","x":0.3,"y":4.49},{"p":"f","c":"L50","k":"dis","x":10,"y":4.41},{"p":"f","c":"L50","k":"dis","x":22.6,"y":4.32},{"p":"f","c":"L50","k":"dis","x":40,"y":4.18},{"p":"f","c":"L50","k":"dis","x":55.3,"y":4.04},{"p":"f","c":"L50","k":"dis","x":75,"y":3.93},{"p":"f","c":"L50","k":"dis","x":91.6,"y":3.87},{"p":"f","c":"L50","k":"dis","x":110,"y":3.81},{"p":"f","c":"L50","k":"dis","x":128,"y":3.76},{"p":"f","c":"L50","k":"dis","x":150,"y":3.72},{"p":"f","c":"L50","k":"dis","x":170,"y":3.69},{"p":"f","c":"L50","k":"dis","x":182,"y":3.65},{"p":"f","c":"L50","k":"dis","x":187,"y":3.56},{"p":"f","c":"L50","k":"dis","x":189.5,"y":3.3},{"p":"f","c":"L50","k":"dis","x":191,"y":2.8},
{"p":"f","c":"L50","k":"ch","x":0,"y":2.8},{"p":"f","c":"L50","k":"ch","x":0.3,"y":3.61},{"p":"f","c":"L50","k":"ch","x":3,"y":3.67},{"p":"f","c":"L50","k":"ch","x":15,"y":3.73},{"p":"f","c":"L50","k":"ch","x":35,"y":3.78},{"p":"f","c":"L50","k":"ch","x":55,"y":3.83},{"p":"f","c":"L50","k":"ch","x":75,"y":3.87},{"p":"f","c":"L50","k":"ch","x":91.6,"y":3.91},{"p":"f","c":"L50","k":"ch","x":110,"y":3.96},{"p":"f","c":"L50","k":"ch","x":128,"y":4.03},{"p":"f","c":"L50","k":"ch","x":145,"y":4.12},{"p":"f","c":"L50","k":"ch","x":164,"y":4.24},{"p":"f","c":"L50","k":"ch","x":180,"y":4.37},{"p":"f","c":"L50","k":"ch","x":196,"y":4.6},
{"p":"f","c":"L20","k":"dis","x":0,"y":4.56},{"p":"f","c":"L20","k":"dis","x":0.3,"y":4.5},{"p":"f","c":"L20","k":"dis","x":10,"y":4.42},{"p":"f","c":"L20","k":"dis","x":22.6,"y":4.33},{"p":"f","c":"L20","k":"dis","x":40,"y":4.19},{"p":"f","c":"L20","k":"dis","x":55.3,"y":4.05},{"p":"f","c":"L20","k":"dis","x":75,"y":3.94},{"p":"f","c":"L20","k":"dis","x":91.6,"y":3.875},{"p":"f","c":"L20","k":"dis","x":110,"y":3.81},{"p":"f","c":"L20","k":"dis","x":128,"y":3.76},{"p":"f","c":"L20","k":"dis","x":150,"y":3.73},{"p":"f","c":"L20","k":"dis","x":170,"y":3.7},{"p":"f","c":"L20","k":"dis","x":188,"y":3.67},{"p":"f","c":"L20","k":"dis","x":196,"y":3.63},{"p":"f","c":"L20","k":"dis","x":199,"y":3.5},{"p":"f","c":"L20","k":"dis","x":200.8,"y":3.2},{"p":"f","c":"L20","k":"dis","x":201.5,"y":2.8},
{"p":"f","c":"L20","k":"ch","x":0,"y":2.8},{"p":"f","c":"L20","k":"ch","x":0.3,"y":3.6},{"p":"f","c":"L20","k":"ch","x":3,"y":3.66},{"p":"f","c":"L20","k":"ch","x":15,"y":3.72},{"p":"f","c":"L20","k":"ch","x":35,"y":3.77},{"p":"f","c":"L20","k":"ch","x":55,"y":3.81},{"p":"f","c":"L20","k":"ch","x":75,"y":3.86},{"p":"f","c":"L20","k":"ch","x":91.6,"y":3.89},{"p":"f","c":"L20","k":"ch","x":110,"y":3.93},{"p":"f","c":"L20","k":"ch","x":128,"y":3.99},{"p":"f","c":"L20","k":"ch","x":145,"y":4.07},{"p":"f","c":"L20","k":"ch","x":164,"y":4.19},{"p":"f","c":"L20","k":"ch","x":180,"y":4.3},{"p":"f","c":"L20","k":"ch","x":193,"y":4.42},{"p":"f","c":"L20","k":"ch","x":204,"y":4.6},
{"p":"f","c":"C1","k":"dis","x":0,"y":4.5},{"p":"f","c":"C1","k":"dis","x":0.3,"y":4.45},{"p":"f","c":"C1","k":"dis","x":10,"y":4.36},{"p":"f","c":"C1","k":"dis","x":25,"y":4.24},{"p":"f","c":"C1","k":"dis","x":45,"y":4.08},{"p":"f","c":"C1","k":"dis","x":65,"y":3.96},{"p":"f","c":"C1","k":"dis","x":90,"y":3.86},{"p":"f","c":"C1","k":"dis","x":110,"y":3.8},{"p":"f","c":"C1","k":"dis","x":130,"y":3.75},{"p":"f","c":"C1","k":"dis","x":150,"y":3.72},{"p":"f","c":"C1","k":"dis","x":170,"y":3.69},{"p":"f","c":"C1","k":"dis","x":185,"y":3.66},{"p":"f","c":"C1","k":"dis","x":190,"y":3.6},{"p":"f","c":"C1","k":"dis","x":192,"y":3.45},{"p":"f","c":"C1","k":"dis","x":193,"y":3.15},{"p":"f","c":"C1","k":"dis","x":193.5,"y":2.8},
{"p":"f","c":"C1","k":"ch","x":0,"y":2.8},{"p":"f","c":"C1","k":"ch","x":0.3,"y":3.6},{"p":"f","c":"C1","k":"ch","x":3,"y":3.65},{"p":"f","c":"C1","k":"ch","x":15,"y":3.71},{"p":"f","c":"C1","k":"ch","x":35,"y":3.76},{"p":"f","c":"C1","k":"ch","x":55,"y":3.8},{"p":"f","c":"C1","k":"ch","x":75,"y":3.85},{"p":"f","c":"C1","k":"ch","x":95,"y":3.9},{"p":"f","c":"C1","k":"ch","x":115,"y":3.96},{"p":"f","c":"C1","k":"ch","x":135,"y":4.05},{"p":"f","c":"C1","k":"ch","x":155,"y":4.16},{"p":"f","c":"C1","k":"ch","x":170,"y":4.27},{"p":"f","c":"C1","k":"ch","x":183,"y":4.4},{"p":"f","c":"C1","k":"ch","x":193.5,"y":4.6},
{"p":"f","c":"L1","k":"dis","x":0,"y":4.56},{"p":"f","c":"L1","k":"dis","x":0.3,"y":4.5},{"p":"f","c":"L1","k":"dis","x":10,"y":4.42},{"p":"f","c":"L1","k":"dis","x":22.6,"y":4.34},{"p":"f","c":"L1","k":"dis","x":40,"y":4.2},{"p":"f","c":"L1","k":"dis","x":55.3,"y":4.06},{"p":"f","c":"L1","k":"dis","x":75,"y":3.95},{"p":"f","c":"L1","k":"dis","x":91.6,"y":3.885},{"p":"f","c":"L1","k":"dis","x":110,"y":3.82},{"p":"f","c":"L1","k":"dis","x":128,"y":3.77},{"p":"f","c":"L1","k":"dis","x":150,"y":3.74},{"p":"f","c":"L1","k":"dis","x":164.4,"y":3.72},{"p":"f","c":"L1","k":"dis","x":180,"y":3.7},{"p":"f","c":"L1","k":"dis","x":193.5,"y":3.68},{"p":"f","c":"L1","k":"dis","x":203,"y":3.65},{"p":"f","c":"L1","k":"dis","x":207,"y":3.6},{"p":"f","c":"L1","k":"dis","x":209,"y":3.4},{"p":"f","c":"L1","k":"dis","x":210,"y":3.1},{"p":"f","c":"L1","k":"dis","x":210.5,"y":2.8},
{"p":"f","c":"L1","k":"ch","x":0,"y":2.8},{"p":"f","c":"L1","k":"ch","x":0.3,"y":3.6},{"p":"f","c":"L1","k":"ch","x":3,"y":3.66},{"p":"f","c":"L1","k":"ch","x":15,"y":3.72},{"p":"f","c":"L1","k":"ch","x":35,"y":3.77},{"p":"f","c":"L1","k":"ch","x":55,"y":3.81},{"p":"f","c":"L1","k":"ch","x":75,"y":3.85},{"p":"f","c":"L1","k":"ch","x":91.6,"y":3.885},{"p":"f","c":"L1","k":"ch","x":110,"y":3.92},{"p":"f","c":"L1","k":"ch","x":128,"y":3.97},{"p":"f","c":"L1","k":"ch","x":145,"y":4.05},{"p":"f","c":"L1","k":"ch","x":164,"y":4.16},{"p":"f","c":"L1","k":"ch","x":180,"y":4.25},{"p":"f","c":"L1","k":"ch","x":193.5,"y":4.34},{"p":"f","c":"L1","k":"ch","x":203,"y":4.43},{"p":"f","c":"L1","k":"ch","x":210.5,"y":4.6}
],
"arr":[
{"p":"a","s":"C","id":"a1","o":0,"x":19.5,"cap":229.9},{"p":"a","s":"C","id":"a1","o":1,"x":19.5,"cap":210.4},{"p":"a","s":"C","id":"a1","o":2,"x":26,"cap":210.4},
{"p":"a","s":"C","id":"a2","o":0,"x":13.9,"cap":145.6},{"p":"a","s":"C","id":"a2","o":1,"x":13.9,"cap":121.8},{"p":"a","s":"C","id":"a2","o":2,"x":7.5,"cap":121.8},
{"p":"b","s":"C","id":"b1","o":0,"x":103.2,"cap":219.9},{"p":"b","s":"C","id":"b1","o":1,"x":103.2,"cap":204.1},{"p":"b","s":"C","id":"b1","o":2,"x":117.5,"cap":204.1},
{"p":"b","s":"C","id":"b2","o":0,"x":57,"cap":172.9},{"p":"b","s":"C","id":"b2","o":1,"x":57,"cap":144.5},{"p":"b","s":"C","id":"b2","o":2,"x":44,"cap":144.5},
{"p":"c","s":"C","id":"c1","o":0,"x":21,"cap":224.7},{"p":"c","s":"C","id":"c1","o":1,"x":21,"cap":211.6},{"p":"c","s":"C","id":"c1","o":2,"x":27.6,"cap":211.6},
{"p":"c","s":"C","id":"c2","o":0,"x":7.5,"cap":185.1},{"p":"c","s":"C","id":"c2","o":1,"x":7.5,"cap":154.6},{"p":"c","s":"C","id":"c2","o":2,"x":1.5,"cap":154.6},
{"p":"d","s":"L","id":"d1","o":0,"x":156.9,"y":4.558},{"p":"d","s":"L","id":"d1","o":1,"x":118,"y":4.558},
{"p":"d","s":"C","id":"d2","o":0,"x":24.8,"y":2.876},{"p":"d","s":"C","id":"d2","o":1,"x":8.5,"y":2.876},
{"p":"e","s":"L","id":"e1","o":0,"x":230,"y":4.547},{"p":"e","s":"L","id":"e1","o":1,"x":166,"y":4.547},
{"p":"e","s":"C","id":"e2","o":0,"x":207.3,"y":2.861},{"p":"e","s":"C","id":"e2","o":1,"x":66,"y":2.861},
{"p":"f","s":"L","id":"f1","o":0,"x":220.8,"y":4.532},{"p":"f","s":"L","id":"f1","o":1,"x":166,"y":4.532},
{"p":"f","s":"C","id":"f2","o":0,"x":201.5,"y":2.85},{"p":"f","s":"C","id":"f2","o":1,"x":118.5,"y":2.85}
],
"hd":[
{"p":"a","s":"C","dir":"right","x":26.5,"cap":210.4},{"p":"a","s":"C","dir":"left","x":7,"cap":121.8},
{"p":"b","s":"C","dir":"right","x":118,"cap":204.1},{"p":"b","s":"C","dir":"left","x":43.5,"cap":144.5},
{"p":"c","s":"C","dir":"right","x":28,"cap":211.6},{"p":"c","s":"C","dir":"left","x":1,"cap":154.6},
{"p":"d","s":"L","dir":"left","x":117,"y":4.558},{"p":"d","s":"C","dir":"left","x":7.6,"y":2.876},
{"p":"e","s":"L","dir":"left","x":164.7,"y":4.547},{"p":"e","s":"C","dir":"left","x":64.8,"y":2.861},
{"p":"f","s":"L","dir":"left","x":164.4,"y":4.532},{"p":"f","s":"C","dir":"left","x":117.2,"y":2.85}
],
"edge":[
{"p":"a","x":-1.05,"x2":104.4,"cap":250},{"p":"b","x":-3.6,"x2":209.2,"cap":250},{"p":"c","x":-4.3,"x2":66.4,"cap":250}
],
"txt":[
{"p":"a","r":"let","x":-17.7,"cap":272.2,"t":"(a)"},
{"p":"a","r":"av","x":69.7,"cap":210.4,"t":"AV."},{"p":"a","r":"ce","x":71.5,"cap":210.4,"t":"CE:99.6%"},
{"p":"a","r":"ob","x":46.4,"cap":166.6,"t":"1 M LiDFOB-ES"},{"p":"a","r":"ob","x":92.1,"cap":150.8,"t":"88.4%"},
{"p":"a","r":"kb","x":19.7,"cap":95.4,"t":"NCM622 ‖ Li"},{"p":"a","r":"kb","x":21.3,"cap":67.6,"t":"N/P=4, 2.8-4.6 V"},
{"p":"a","r":"kb","x":80.7,"cap":37.5,"t":"-30 °C, 0.1 C"},{"p":"a","r":"kb","x":41.7,"cap":17.4,"t":"Commercial"},
{"p":"b","r":"let","x":9.8,"cap":272.2,"t":"(b)"},
{"p":"b","r":"av","x":145.8,"cap":206.2,"t":"AV."},{"p":"b","r":"ce","x":149.1,"cap":206.2,"t":"CE:99.5%"},
{"p":"b","r":"ob","x":179.2,"cap":153.5,"t":"88.2%"},{"p":"b","r":"kb","x":167.9,"cap":32.1,"t":"25 °C, 0.5 C"},
{"p":"c","r":"let","x":0.4,"cap":272.2,"t":"(c)"},{"p":"c","r":"kb","x":68.3,"cap":41.6,"t":"60 °C, 0.5 C"},
{"p":"d","r":"let","x":-31.7,"y":5.097,"t":"(d)"},{"p":"d","r":"kb","x":25.3,"y":4.77,"t":"-30 °C, 0.1 C"},
{"p":"d","r":"kb","x":112.6,"y":4.037,"t":"Commercial"},{"p":"d","r":"ob","x":119.8,"y":3.77,"t":"1 M LiDFOB-ES"},
{"p":"e","r":"let","x":10.6,"y":5.097,"t":"(e)"},{"p":"e","r":"kb","x":34.8,"y":4.76,"t":"25 °C, 0.5 C"},
{"p":"f","r":"let","x":9.5,"y":5.097,"t":"(f)"},{"p":"f","r":"kb","x":32.4,"y":4.76,"t":"60 °C, 0.5 C"}
],
"lab":[
{"p":"d","c":"L100","t":"100ᵗʰ","x":100.5,"y":4.719},{"p":"d","c":"L50","t":"50ᵗʰ","x":122,"y":4.719},{"p":"d","c":"L20","t":"20ᵗʰ","x":143,"y":4.719},{"p":"d","c":"L1","t":"1ˢᵗ","x":160,"y":4.719},
{"p":"d","c":"C20","t":"20ᵗʰ","x":2.5,"y":2.673},{"p":"d","c":"C1","t":"1ˢᵗ","x":29,"y":2.673},
{"p":"e","c":"L200","t":"200ᵗʰ","x":126.5,"y":4.734},{"p":"e","c":"L100","t":"100ᵗʰ","x":170.2,"y":4.734},{"p":"e","c":"L50","t":"50ᵗʰ","x":209.1,"y":4.734},{"p":"e","c":"L1","t":"1ˢᵗ","x":240,"y":4.734},
{"p":"e","c":"C100","t":"100ᵗʰ","x":72.8,"y":2.658},{"p":"e","c":"C90","t":"90ᵗʰ","x":113.9,"y":2.658},{"p":"e","c":"C20","t":"20ᵗʰ","x":148.4,"y":2.658},{"p":"e","c":"C1","t":"1ˢᵗ","x":170.2,"y":2.658},
{"p":"f","c":"L80","t":"80ᵗʰ","x":130.6,"y":4.734},{"p":"f","c":"L50","t":"50ᵗʰ","x":168.8,"y":4.734},{"p":"f","c":"L20","t":"20ᵗʰ","x":199,"y":4.734},{"p":"f","c":"L1","t":"1ˢᵗ","x":223.3,"y":4.734},
{"p":"f","c":"C20","t":"20ᵗʰ","x":120.8,"y":2.658},{"p":"f","c":"C15","t":"15ᵗʰ","x":150.2,"y":2.658},{"p":"f","c":"C1","t":"1ˢᵗ","x":178,"y":2.658}
]
},
"concat":[
{
 "width":231,"height":158,
 "layer":[
  {
   "encoding":{"x":{"field":"x","type":"quantitative","scale":{"domain":[-1.05,104.4],"zero":false,"nice":false},"axis":{"values":[0,10,20,30,40,50,60,70,80,90,100],"labelExpr":"datum.value % 20 === 0 ? datum.label : ''","tickSize":{"condition":{"test":"datum.value % 20 === 0","value":5},"value":3},"title":null}},
               "y":{"field":"cap","type":"quantitative","scale":{"domain":[0,250],"zero":false,"nice":false},"axis":{"values":[0,25,50,75,100,125,150,175,200,225,250],"labelExpr":"datum.value % 50 === 0 ? datum.label : ''","tickSize":{"condition":{"test":"datum.value % 50 === 0","value":5},"value":3},"title":"Capacity (mA h g⁻¹)","titlePadding":6}}},
   "layer":[
    {"data":{"name":"edge"},"transform":[{"filter":"datum.p=='a'"}],"mark":{"type":"rule","color":"#3535c8","strokeWidth":1.5},"encoding":{"x2":{"field":"x2"}}},
    {"data":{"name":"cyc"},"transform":[{"filter":"datum.p=='a' && datum.s=='L'"}],"mark":{"type":"point","filled":true,"fill":"#f9ae7c","stroke":"#f0641a","strokeWidth":1.3,"size":44,"opacity":1}},
    {"data":{"name":"cyc"},"transform":[{"filter":"datum.p=='a' && datum.s=='C'"}],"mark":{"type":"point","filled":true,"fill":"#9fb3b3","stroke":"#151515","strokeWidth":1.6,"size":38,"opacity":1}},
    {"data":{"name":"arr"},"transform":[{"filter":"datum.p=='a'"}],"mark":{"type":"line","color":"#111111","strokeWidth":1.3},"encoding":{"detail":{"field":"id"},"order":{"field":"o"}}},
    {"data":{"name":"hd"},"transform":[{"filter":"datum.p=='a'"}],"mark":{"type":"point","filled":true,"color":"#111111","size":30,"opacity":1},
     "encoding":{"shape":{"field":"dir","type":"nominal","scale":{"domain":["left","right"],"range":["triangle-left","triangle-right"]},"legend":null}}},
    {"data":{"name":"txt"},"transform":[{"filter":"datum.p=='a' && datum.r=='let'"}],"mark":{"type":"text","fontSize":19,"fontWeight":"bold","color":"#111111","baseline":"middle"},"encoding":{"text":{"field":"t"}}},
    {"data":{"name":"txt"},"transform":[{"filter":"datum.p=='a' && datum.r=='kb'"}],"mark":{"type":"text","fontSize":12.5,"fontWeight":"bold","color":"#111111","baseline":"middle"},"encoding":{"text":{"field":"t"}}},
    {"data":{"name":"txt"},"transform":[{"filter":"datum.p=='a' && datum.r=='ob'"}],"mark":{"type":"text","fontSize":12.5,"fontWeight":"bold","color":"#f26a1b","baseline":"middle"},"encoding":{"text":{"field":"t"}}},
    {"data":{"name":"txt"},"transform":[{"filter":"datum.p=='a' && datum.r=='av'"}],"mark":{"type":"text","fontSize":13,"fontStyle":"italic","color":"#f26a1b","baseline":"middle","align":"right"},"encoding":{"text":{"field":"t"}}},
    {"data":{"name":"txt"},"transform":[{"filter":"datum.p=='a' && datum.r=='ce'"}],"mark":{"type":"text","fontSize":13,"color":"#f26a1b","baseline":"middle","align":"left"},"encoding":{"text":{"field":"t"}}}
   ]
  },
  {
   "encoding":{"x":{"field":"x","type":"quantitative","scale":{"domain":[-1.05,104.4],"zero":false,"nice":false},"axis":null},
               "y":{"field":"eff","type":"quantitative","scale":{"domain":[0,106],"zero":false,"nice":false},"axis":null}},
   "layer":[
    {"data":{"name":"cyc"},"transform":[{"filter":"datum.p=='a' && datum.s=='L'"}],"mark":{"type":"point","filled":true,"fill":"white","stroke":"#f58a4c","strokeWidth":1,"size":50,"opacity":1}},
    {"data":{"name":"cyc"},"transform":[{"filter":"datum.p=='a' && datum.s=='C'"}],"mark":{"type":"point","filled":true,"fill":"white","stroke":"#555555","strokeWidth":1,"size":50,"opacity":1}}
   ]
  },
  {
   "encoding":{"x":{"field":"hx","type":"quantitative","scale":{"domain":[59,290],"zero":false,"nice":false},"axis":null},
               "y":{"field":"hy","type":"quantitative","scale":{"domain":[237,79],"zero":false,"nice":false},"axis":null}},
   "layer":[
    {"data":{"values":[{"hx":0,"hx2":783,"hy":0,"hy2":1}]},"mark":{"type":"rect","opacity":0},"encoding":{"x2":{"field":"hx2"},"y2":{"field":"hy2"}}},
    {"data":{"values":[{"hx":1,"hx2":770,"hy":23,"hy2":37}]},"mark":{"type":"rect","stroke":null,"fill":{"gradient":"linear","x1":0,"y1":0,"x2":1,"y2":0,"stops":[{"offset":0,"color":"#1a2cff"},{"offset":0.077,"color":"#2233f5"},{"offset":0.22,"color":"#4d55cc"},{"offset":0.337,"color":"#8e8ac6"},{"offset":0.44,"color":"#bcb0ea"},{"offset":0.545,"color":"#e8cce0"},{"offset":0.61,"color":"#fbc0c0"},{"offset":0.69,"color":"#ff8aa0"},{"offset":0.78,"color":"#ff6080"},{"offset":0.884,"color":"#ff2a45"},{"offset":1,"color":"#ff1010"}]}},"encoding":{"x2":{"field":"hx2"},"y2":{"field":"hy2"}}},
    {"data":{"values":[{"hx":776,"hy":30}]},"mark":{"type":"point","shape":"M -0.54 -1 L 0.54 0 L -0.54 1 Z","filled":true,"fill":"#ff1212","strokeWidth":0,"size":676,"opacity":1}},
    {"data":{"values":[{"hx":82,"hy":9.5,"t":"-30 ℃"}]},"mark":{"type":"text","fontSize":19,"fontWeight":"bold","color":"#1c2de8","baseline":"middle"},"encoding":{"text":{"field":"t"}}},
    {"data":{"values":[{"hx":391,"hy":9.5,"t":"25 ℃"}]},"mark":{"type":"text","fontSize":19,"fontWeight":"bold","color":"#3b1d94","baseline":"middle"},"encoding":{"text":{"field":"t"}}},
    {"data":{"values":[{"hx":695,"hy":9.5,"t":"60 ℃"}]},"mark":{"type":"text","fontSize":19,"fontWeight":"bold","color":"#ee1616","baseline":"middle"},"encoding":{"text":{"field":"t"}}}
   ]
  }
 ],
 "resolve":{"scale":{"x":"independent","y":"independent"},"axis":{"x":"independent","y":"independent"}}
},
{
 "width":239,"height":158,
 "layer":[
  {
   "encoding":{"x":{"field":"x","type":"quantitative","scale":{"domain":[-3.6,209.2],"zero":false,"nice":false},"axis":{"values":[0,25,50,75,100,125,150,175,200],"labelExpr":"datum.value % 50 === 0 ? datum.label : ''","tickSize":{"condition":{"test":"datum.value % 50 === 0","value":5},"value":3},"title":"Cycle number","titlePadding":3}},
               "y":{"field":"cap","type":"quantitative","scale":{"domain":[0,250],"zero":false,"nice":false},"axis":null}},
   "layer":[
    {"data":{"name":"edge"},"transform":[{"filter":"datum.p=='b'"}],"mark":{"type":"rule","color":"#3535c8","strokeWidth":1.5},"encoding":{"x2":{"field":"x2"}}},
    {"data":{"name":"cyc"},"transform":[{"filter":"datum.p=='b' && datum.s=='L'"}],"mark":{"type":"point","filled":true,"fill":"#f9ae7c","stroke":"#f0641a","strokeWidth":1.3,"size":58,"opacity":1}},
    {"data":{"name":"cyc"},"transform":[{"filter":"datum.p=='b' && datum.s=='C'"}],"mark":{"type":"point","filled":true,"fill":"#9fb3b3","stroke":"#151515","strokeWidth":1.6,"size":48,"opacity":1}},
    {"data":{"name":"arr"},"transform":[{"filter":"datum.p=='b'"}],"mark":{"type":"line","color":"#111111","strokeWidth":1.3},"encoding":{"detail":{"field":"id"},"order":{"field":"o"}}},
    {"data":{"name":"hd"},"transform":[{"filter":"datum.p=='b'"}],"mark":{"type":"point","filled":true,"color":"#111111","size":30,"opacity":1},
     "encoding":{"shape":{"field":"dir","type":"nominal","scale":{"domain":["left","right"],"range":["triangle-left","triangle-right"]},"legend":null}}},
    {"data":{"name":"txt"},"transform":[{"filter":"datum.p=='b' && datum.r=='let'"}],"mark":{"type":"text","fontSize":19,"fontWeight":"bold","color":"#111111","baseline":"middle"},"encoding":{"text":{"field":"t"}}},
    {"data":{"name":"txt"},"transform":[{"filter":"datum.p=='b' && datum.r=='kb'"}],"mark":{"type":"text","fontSize":12.5,"fontWeight":"bold","color":"#111111","baseline":"middle"},"encoding":{"text":{"field":"t"}}},
    {"data":{"name":"txt"},"transform":[{"filter":"datum.p=='b' && datum.r=='ob'"}],"mark":{"type":"text","fontSize":12.5,"fontWeight":"bold","color":"#f26a1b","baseline":"middle"},"encoding":{"text":{"field":"t"}}},
    {"data":{"name":"txt"},"transform":[{"filter":"datum.p=='b' && datum.r=='av'"}],"mark":{"type":"text","fontSize":13,"fontStyle":"italic","color":"#f26a1b","baseline":"middle","align":"right"},"encoding":{"text":{"field":"t"}}},
    {"data":{"name":"txt"},"transform":[{"filter":"datum.p=='b' && datum.r=='ce'"}],"mark":{"type":"text","fontSize":13,"color":"#f26a1b","baseline":"middle","align":"left"},"encoding":{"text":{"field":"t"}}}
   ]
  },
  {
   "encoding":{"x":{"field":"x","type":"quantitative","scale":{"domain":[-3.6,209.2],"zero":false,"nice":false},"axis":null},
               "y":{"field":"eff","type":"quantitative","scale":{"domain":[0,106],"zero":false,"nice":false},"axis":null}},
   "layer":[
    {"data":{"name":"cyc"},"transform":[{"filter":"datum.p=='b' && datum.s=='L'"}],"mark":{"type":"point","filled":true,"fill":"white","stroke":"#f58a4c","strokeWidth":1,"size":58,"opacity":1}},
    {"data":{"name":"cyc"},"transform":[{"filter":"datum.p=='b' && datum.s=='C'"}],"mark":{"type":"point","filled":true,"fill":"white","stroke":"#555555","strokeWidth":1,"size":62,"opacity":1}}
   ]
  }
 ],
 "resolve":{"scale":{"y":"independent"},"axis":{"y":"independent"}}
},
{
 "width":229,"height":158,
 "layer":[
  {
   "encoding":{"x":{"field":"x","type":"quantitative","scale":{"domain":[-4.3,84.7],"zero":false,"nice":false},"axis":{"values":[0,10,20,30,40,50,60,70,80],"labelExpr":"datum.value % 20 === 0 ? datum.label : ''","tickSize":{"condition":{"test":"datum.value % 20 === 0","value":5},"value":3},"title":null}},
               "y":{"field":"cap","type":"quantitative","scale":{"domain":[0,250],"zero":false,"nice":false},"axis":null}},
   "layer":[
    {"data":{"name":"edge"},"transform":[{"filter":"datum.p=='c'"}],"mark":{"type":"rule","color":"#3535c8","strokeWidth":1.5},"encoding":{"x2":{"field":"x2"}}},
    {"data":{"name":"cyc"},"transform":[{"filter":"datum.p=='c' && datum.s=='L'"}],"mark":{"type":"point","filled":true,"fill":"#f9ae7c","stroke":"#f0641a","strokeWidth":1.3,"size":36,"opacity":1}},
    {"data":{"name":"cyc"},"transform":[{"filter":"datum.p=='c' && datum.s=='C'"}],"mark":{"type":"point","filled":true,"fill":"#9fb3b3","stroke":"#151515","strokeWidth":1.6,"size":38,"opacity":1}},
    {"data":{"name":"arr"},"transform":[{"filter":"datum.p=='c'"}],"mark":{"type":"line","color":"#111111","strokeWidth":1.3},"encoding":{"detail":{"field":"id"},"order":{"field":"o"}}},
    {"data":{"name":"hd"},"transform":[{"filter":"datum.p=='c'"}],"mark":{"type":"point","filled":true,"color":"#111111","size":30,"opacity":1},
     "encoding":{"shape":{"field":"dir","type":"nominal","scale":{"domain":["left","right"],"range":["triangle-left","triangle-right"]},"legend":null}}},
    {"data":{"name":"txt"},"transform":[{"filter":"datum.p=='c' && datum.r=='let'"}],"mark":{"type":"text","fontSize":19,"fontWeight":"bold","color":"#111111","baseline":"middle"},"encoding":{"text":{"field":"t"}}},
    {"data":{"name":"txt"},"transform":[{"filter":"datum.p=='c' && datum.r=='kb'"}],"mark":{"type":"text","fontSize":12.5,"fontWeight":"bold","color":"#111111","baseline":"middle"},"encoding":{"text":{"field":"t"}}}
   ]
  },
  {
   "encoding":{"x":{"field":"x","type":"quantitative","scale":{"domain":[-4.3,84.7],"zero":false,"nice":false},"axis":null},
               "y":{"field":"eff","type":"quantitative","scale":{"domain":[0,106],"zero":false,"nice":false},"axis":{"orient":"right","values":[0,10,20,30,40,50,60,70,80,90,100],"labelExpr":"datum.value % 20 === 0 ? datum.label : ''","tickSize":{"condition":{"test":"datum.value % 20 === 0","value":5},"value":3},"title":"Efficiency (%)","titlePadding":4}}},
   "layer":[
    {"data":{"name":"cyc"},"transform":[{"filter":"datum.p=='c' && datum.s=='L'"}],"mark":{"type":"point","filled":true,"fill":"white","stroke":"#f58a4c","strokeWidth":1,"size":45,"opacity":1}},
    {"data":{"name":"cyc"},"transform":[{"filter":"datum.p=='c' && datum.s=='C'"}],"mark":{"type":"point","filled":true,"fill":"white","stroke":"#555555","strokeWidth":1,"size":55,"opacity":1}}
   ]
  }
 ],
 "resolve":{"scale":{"y":"independent"},"axis":{"y":"independent"}}
},
{
 "width":231,"height":158,
 "encoding":{"x":{"field":"x","type":"quantitative","scale":{"domain":[-5.85,169.6],"zero":false,"nice":false},"axis":{"values":[0,15,30,45,60,75,90,105,120,135,150,165],"labelExpr":"datum.value % 30 === 0 ? datum.label : ''","tickSize":{"condition":{"test":"datum.value % 30 === 0","value":5},"value":3},"title":null}},
             "y":{"field":"y","type":"quantitative","scale":{"domain":[2.517,4.911],"zero":false,"nice":false},"axis":{"values":[2.6,2.8,3.0,3.2,3.4,3.6,3.8,4.0,4.2,4.4,4.6,4.8],"format":".1f","labelExpr":"round(datum.value*10) % 4 === 0 ? datum.label : ''","tickSize":{"condition":{"test":"round(datum.value*10) % 4 === 0","value":5},"value":3},"title":"Voltage (V)","titlePadding":9}}},
 "layer":[
  {"data":{"name":"vc"},"transform":[{"filter":"datum.p=='d'"}],"mark":{"type":"line","strokeWidth":2.2,"interpolate":"monotone"},
   "encoding":{"color":{"field":"c","type":"nominal","scale":{"domain":["C1","C20","L1","L20","L50","L100"],"range":["#141414","#b7cccc","#f26a1b","#f4873f","#f7a671","#fbcaa8"]},"legend":null},"detail":{"field":"k"}}},
  {"data":{"name":"arr"},"transform":[{"filter":"datum.p=='d'"}],"mark":{"type":"line","strokeWidth":1.6},
   "encoding":{"stroke":{"field":"s","type":"nominal","scale":{"domain":["C","L"],"range":["#141414","#f26a1b"]},"legend":null},"detail":{"field":"id"},"order":{"field":"o"}}},
  {"data":{"name":"hd"},"transform":[{"filter":"datum.p=='d'"}],"mark":{"type":"point","filled":true,"size":45,"opacity":1,"shape":"triangle-left"},
   "encoding":{"fill":{"field":"s","type":"nominal","scale":{"domain":["C","L"],"range":["#141414","#f26a1b"]},"legend":null}}},
  {"data":{"name":"lab"},"transform":[{"filter":"datum.p=='d'"}],"mark":{"type":"text","fontSize":13,"fontWeight":"bold","baseline":"middle"},
   "encoding":{"text":{"field":"t"},"color":{"field":"c","type":"nominal","scale":{"domain":["C1","C20","L1","L20","L50","L100"],"range":["#141414","#b7cccc","#f26a1b","#f4873f","#f7a671","#fbcaa8"]},"legend":null}}},
  {"data":{"name":"txt"},"transform":[{"filter":"datum.p=='d' && datum.r=='let'"}],"mark":{"type":"text","fontSize":19,"fontWeight":"bold","color":"#111111","baseline":"middle"},"encoding":{"text":{"field":"t"}}},
  {"data":{"name":"txt"},"transform":[{"filter":"datum.p=='d' && datum.r=='kb'"}],"mark":{"type":"text","fontSize":12.5,"fontWeight":"bold","color":"#111111","baseline":"middle"},"encoding":{"text":{"field":"t"}}},
  {"data":{"name":"txt"},"transform":[{"filter":"datum.p=='d' && datum.r=='ob'"}],"mark":{"type":"text","fontSize":12.5,"fontWeight":"bold","color":"#f26a1b","baseline":"middle"},"encoding":{"text":{"field":"t"}}}
 ]
},
{
 "width":239,"height":158,
 "encoding":{"x":{"field":"x","type":"quantitative","scale":{"domain":[-5.8,254.9],"zero":false,"nice":false},"axis":{"values":[0,20,40,60,80,100,120,140,160,180,200,220,240],"labelExpr":"datum.value % 40 === 0 ? datum.label : ''","tickSize":{"condition":{"test":"datum.value % 40 === 0","value":5},"value":3},"title":"Capacity (mA h g⁻¹)","titlePadding":4}},
             "y":{"field":"y","type":"quantitative","scale":{"domain":[2.517,4.911],"zero":false,"nice":false},"axis":null}},
 "layer":[
  {"data":{"name":"vc"},"transform":[{"filter":"datum.p=='e'"}],"mark":{"type":"line","strokeWidth":2.2,"interpolate":"monotone"},
   "encoding":{"color":{"field":"c","type":"nominal","scale":{"domain":["C1","C20","C90","C100","L1","L50","L100","L200"],"range":["#141414","#4e5c63","#8d9da3","#c5d1d3","#f26a1b","#f5955a","#f8b68c","#fad0b5"]},"legend":null},"detail":{"field":"k"}}},
  {"data":{"name":"arr"},"transform":[{"filter":"datum.p=='e'"}],"mark":{"type":"line","strokeWidth":1.6},
   "encoding":{"stroke":{"field":"s","type":"nominal","scale":{"domain":["C","L"],"range":["#141414","#f26a1b"]},"legend":null},"detail":{"field":"id"},"order":{"field":"o"}}},
  {"data":{"name":"hd"},"transform":[{"filter":"datum.p=='e'"}],"mark":{"type":"point","filled":true,"size":45,"opacity":1,"shape":"triangle-left"},
   "encoding":{"fill":{"field":"s","type":"nominal","scale":{"domain":["C","L"],"range":["#141414","#f26a1b"]},"legend":null}}},
  {"data":{"name":"lab"},"transform":[{"filter":"datum.p=='e'"}],"mark":{"type":"text","fontSize":13,"fontWeight":"bold","baseline":"middle"},
   "encoding":{"text":{"field":"t"},"color":{"field":"c","type":"nominal","scale":{"domain":["C1","C20","C90","C100","L1","L50","L100","L200"],"range":["#141414","#4e5c63","#8d9da3","#c5d1d3","#f26a1b","#f5955a","#f8b68c","#fad0b5"]},"legend":null}}},
  {"data":{"name":"txt"},"transform":[{"filter":"datum.p=='e' && datum.r=='let'"}],"mark":{"type":"text","fontSize":19,"fontWeight":"bold","color":"#111111","baseline":"middle"},"encoding":{"text":{"field":"t"}}},
  {"data":{"name":"txt"},"transform":[{"filter":"datum.p=='e' && datum.r=='kb'"}],"mark":{"type":"text","fontSize":12.5,"fontWeight":"bold","color":"#111111","baseline":"middle"},"encoding":{"text":{"field":"t"}}}
 ]
},
{
 "width":229,"height":158,
 "encoding":{"x":{"field":"x","type":"quantitative","scale":{"domain":[-6.9,242.9],"zero":false,"nice":false},"axis":{"values":[0,20,40,60,80,100,120,140,160,180,200,220,240],"labelExpr":"datum.value % 40 === 0 ? datum.label : ''","tickSize":{"condition":{"test":"datum.value % 40 === 0","value":5},"value":3},"title":null}},
             "y":{"field":"y","type":"quantitative","scale":{"domain":[2.517,4.911],"zero":false,"nice":false},"axis":null}},
 "layer":[
  {"data":{"name":"vc"},"transform":[{"filter":"datum.p=='f'"}],"mark":{"type":"line","strokeWidth":2.2,"interpolate":"monotone"},
   "encoding":{"color":{"field":"c","type":"nominal","scale":{"domain":["C1","C15","C20","L1","L20","L50","L80"],"range":["#141414","#4b5960","#c3cfd1","#f26a1b","#f58a45","#f7aa78","#f9c8a6"]},"legend":null},"detail":{"field":"k"}}},
  {"data":{"name":"arr"},"transform":[{"filter":"datum.p=='f'"}],"mark":{"type":"line","strokeWidth":1.6},
   "encoding":{"stroke":{"field":"s","type":"nominal","scale":{"domain":["C","L"],"range":["#141414","#f26a1b"]},"legend":null},"detail":{"field":"id"},"order":{"field":"o"}}},
  {"data":{"name":"hd"},"transform":[{"filter":"datum.p=='f'"}],"mark":{"type":"point","filled":true,"size":45,"opacity":1,"shape":"triangle-left"},
   "encoding":{"fill":{"field":"s","type":"nominal","scale":{"domain":["C","L"],"range":["#141414","#f26a1b"]},"legend":null}}},
  {"data":{"name":"lab"},"transform":[{"filter":"datum.p=='f'"}],"mark":{"type":"text","fontSize":13,"fontWeight":"bold","baseline":"middle"},
   "encoding":{"text":{"field":"t"},"color":{"field":"c","type":"nominal","scale":{"domain":["C1","C15","C20","L1","L20","L50","L80"],"range":["#141414","#4b5960","#c3cfd1","#f26a1b","#f58a45","#f7aa78","#f9c8a6"]},"legend":null}}},
  {"data":{"name":"txt"},"transform":[{"filter":"datum.p=='f' && datum.r=='let'"}],"mark":{"type":"text","fontSize":19,"fontWeight":"bold","color":"#111111","baseline":"middle"},"encoding":{"text":{"field":"t"}}},
  {"data":{"name":"txt"},"transform":[{"filter":"datum.p=='f' && datum.r=='kb'"}],"mark":{"type":"text","fontSize":12.5,"fontWeight":"bold","color":"#111111","baseline":"middle"},"encoding":{"text":{"field":"t"}}}
 ]
}
],
"columns":3,
"spacing":{"row":67,"column":2},
"bounds":"flush",
"resolve":{"scale":{"color":"independent"}}
}
